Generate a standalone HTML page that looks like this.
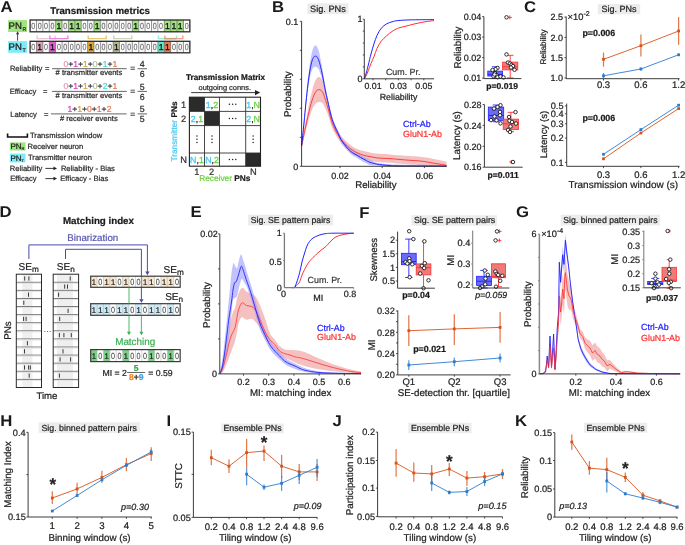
<!DOCTYPE html>
<html><head><meta charset="utf-8"><style>
html,body{margin:0;padding:0;background:#fff;}
svg{display:block;}
text{font-family:"Liberation Sans", sans-serif;text-rendering:geometricPrecision;}
svg{will-change:transform;}
</style></head><body>
<svg width="685" height="545" viewBox="0 0 685 545">
<rect width="685" height="545" fill="#fff"/>
<text x="0" y="0" font-size="15.5" font-weight="bold" fill="#1a1a1a" transform="translate(0.6 12.3) scale(1.08 1)">A</text>
<text x="50.30" y="14.00" font-size="9.7" font-weight="bold" fill="#1a1a1a" stroke="#1a1a1a" stroke-width="0.22">Transmission metrics</text>
<rect x="8.10" y="20.10" width="18.90" height="11.90" fill="#9fe47f" stroke="none" stroke-width="1"/>
<text x="8.50" y="28.90" font-size="9.6" fill="#1a1a1a" stroke="#1a1a1a" stroke-width="0.22">PN</text>
<text x="22.60" y="31.00" font-size="5.4" fill="#333" stroke="#333" stroke-width="0.22">R</text>
<rect x="8.10" y="41.10" width="18.90" height="11.70" fill="#80eaf8" stroke="none" stroke-width="1"/>
<text x="8.50" y="49.90" font-size="9.6" fill="#1a1a1a" stroke="#1a1a1a" stroke-width="0.22">PN</text>
<text x="22.60" y="52.00" font-size="5.4" fill="#333" stroke="#333" stroke-width="0.22">T</text>
<line x1="17.60" y1="40.70" x2="17.60" y2="33.50" stroke="#333" stroke-width="0.9"/>
<path d="M16.0,34.3 L17.6,31.3 L19.2,34.3 Z" fill="#333" stroke="none" stroke-width="1"/>
<rect x="36.49" y="20.00" width="6.39" height="11.80" fill="#f6f6f6" stroke="none" stroke-width="1"/>
<rect x="49.27" y="20.00" width="6.39" height="11.80" fill="#f6f6f6" stroke="none" stroke-width="1"/>
<rect x="55.66" y="20.00" width="6.39" height="11.80" fill="#9fe47f" stroke="none" stroke-width="1"/>
<rect x="62.05" y="20.00" width="6.39" height="11.80" fill="#f6f6f6" stroke="none" stroke-width="1"/>
<rect x="68.44" y="20.00" width="6.39" height="11.80" fill="#9fe47f" stroke="none" stroke-width="1"/>
<rect x="74.83" y="20.00" width="6.39" height="11.80" fill="#9fe47f" stroke="none" stroke-width="1"/>
<rect x="87.61" y="20.00" width="6.39" height="11.80" fill="#f6f6f6" stroke="none" stroke-width="1"/>
<rect x="94.00" y="20.00" width="6.39" height="11.80" fill="#9fe47f" stroke="none" stroke-width="1"/>
<rect x="100.39" y="20.00" width="6.39" height="11.80" fill="#f6f6f6" stroke="none" stroke-width="1"/>
<rect x="113.17" y="20.00" width="6.39" height="11.80" fill="#f6f6f6" stroke="none" stroke-width="1"/>
<rect x="125.95" y="20.00" width="6.39" height="11.80" fill="#f6f6f6" stroke="none" stroke-width="1"/>
<rect x="132.34" y="20.00" width="6.39" height="11.80" fill="#9fe47f" stroke="none" stroke-width="1"/>
<rect x="138.73" y="20.00" width="6.39" height="11.80" fill="#f6f6f6" stroke="none" stroke-width="1"/>
<rect x="151.51" y="20.00" width="6.39" height="11.80" fill="#f6f6f6" stroke="none" stroke-width="1"/>
<rect x="164.29" y="20.00" width="6.39" height="11.80" fill="#9fe47f" stroke="none" stroke-width="1"/>
<rect x="170.68" y="20.00" width="6.39" height="11.80" fill="#9fe47f" stroke="none" stroke-width="1"/>
<rect x="177.07" y="20.00" width="6.39" height="11.80" fill="#9fe47f" stroke="none" stroke-width="1"/>
<line x1="36.49" y1="20.00" x2="36.49" y2="31.80" stroke="#555" stroke-width="0.6"/>
<line x1="42.88" y1="20.00" x2="42.88" y2="31.80" stroke="#555" stroke-width="0.6"/>
<line x1="49.27" y1="20.00" x2="49.27" y2="31.80" stroke="#555" stroke-width="0.6"/>
<line x1="55.66" y1="20.00" x2="55.66" y2="31.80" stroke="#555" stroke-width="0.6"/>
<line x1="62.05" y1="20.00" x2="62.05" y2="31.80" stroke="#555" stroke-width="0.6"/>
<line x1="68.44" y1="20.00" x2="68.44" y2="31.80" stroke="#555" stroke-width="0.6"/>
<line x1="74.83" y1="20.00" x2="74.83" y2="31.80" stroke="#555" stroke-width="0.6"/>
<line x1="81.22" y1="20.00" x2="81.22" y2="31.80" stroke="#555" stroke-width="0.6"/>
<line x1="87.61" y1="20.00" x2="87.61" y2="31.80" stroke="#555" stroke-width="0.6"/>
<line x1="94.00" y1="20.00" x2="94.00" y2="31.80" stroke="#555" stroke-width="0.6"/>
<line x1="100.39" y1="20.00" x2="100.39" y2="31.80" stroke="#555" stroke-width="0.6"/>
<line x1="106.78" y1="20.00" x2="106.78" y2="31.80" stroke="#555" stroke-width="0.6"/>
<line x1="113.17" y1="20.00" x2="113.17" y2="31.80" stroke="#555" stroke-width="0.6"/>
<line x1="119.56" y1="20.00" x2="119.56" y2="31.80" stroke="#555" stroke-width="0.6"/>
<line x1="125.95" y1="20.00" x2="125.95" y2="31.80" stroke="#555" stroke-width="0.6"/>
<line x1="132.34" y1="20.00" x2="132.34" y2="31.80" stroke="#555" stroke-width="0.6"/>
<line x1="138.73" y1="20.00" x2="138.73" y2="31.80" stroke="#555" stroke-width="0.6"/>
<line x1="145.12" y1="20.00" x2="145.12" y2="31.80" stroke="#555" stroke-width="0.6"/>
<line x1="151.51" y1="20.00" x2="151.51" y2="31.80" stroke="#555" stroke-width="0.6"/>
<line x1="157.90" y1="20.00" x2="157.90" y2="31.80" stroke="#555" stroke-width="0.6"/>
<line x1="164.29" y1="20.00" x2="164.29" y2="31.80" stroke="#555" stroke-width="0.6"/>
<line x1="170.68" y1="20.00" x2="170.68" y2="31.80" stroke="#555" stroke-width="0.6"/>
<line x1="177.07" y1="20.00" x2="177.07" y2="31.80" stroke="#555" stroke-width="0.6"/>
<line x1="183.46" y1="20.00" x2="183.46" y2="31.80" stroke="#555" stroke-width="0.6"/>
<rect x="30.10" y="20.00" width="159.75" height="11.80" fill="none" stroke="#2a2a2a" stroke-width="1.3"/>
<text x="0" y="0" font-size="8.9" text-anchor="middle" fill="#666" stroke="#666" stroke-width="0.1" transform="translate(33.30 29.10) scale(0.8 1)">0</text>
<text x="0" y="0" font-size="8.9" text-anchor="middle" fill="#666" stroke="#666" stroke-width="0.1" transform="translate(39.69 29.10) scale(0.8 1)">0</text>
<text x="0" y="0" font-size="8.9" text-anchor="middle" fill="#666" stroke="#666" stroke-width="0.1" transform="translate(46.08 29.10) scale(0.8 1)">0</text>
<text x="0" y="0" font-size="8.9" text-anchor="middle" fill="#666" stroke="#666" stroke-width="0.1" transform="translate(52.46 29.10) scale(0.8 1)">0</text>
<text x="58.85" y="29.00" font-size="8.6" text-anchor="middle" fill="#111" stroke="#111" stroke-width="0.3">1</text>
<text x="0" y="0" font-size="8.9" text-anchor="middle" fill="#666" stroke="#666" stroke-width="0.1" transform="translate(65.24 29.10) scale(0.8 1)">0</text>
<text x="71.63" y="29.00" font-size="8.6" text-anchor="middle" fill="#111" stroke="#111" stroke-width="0.3">1</text>
<text x="78.02" y="29.00" font-size="8.6" text-anchor="middle" fill="#111" stroke="#111" stroke-width="0.3">1</text>
<text x="0" y="0" font-size="8.9" text-anchor="middle" fill="#666" stroke="#666" stroke-width="0.1" transform="translate(84.41 29.10) scale(0.8 1)">0</text>
<text x="0" y="0" font-size="8.9" text-anchor="middle" fill="#666" stroke="#666" stroke-width="0.1" transform="translate(90.80 29.10) scale(0.8 1)">0</text>
<text x="97.19" y="29.00" font-size="8.6" text-anchor="middle" fill="#111" stroke="#111" stroke-width="0.3">1</text>
<text x="0" y="0" font-size="8.9" text-anchor="middle" fill="#666" stroke="#666" stroke-width="0.1" transform="translate(103.58 29.10) scale(0.8 1)">0</text>
<text x="0" y="0" font-size="8.9" text-anchor="middle" fill="#666" stroke="#666" stroke-width="0.1" transform="translate(109.97 29.10) scale(0.8 1)">0</text>
<text x="0" y="0" font-size="8.9" text-anchor="middle" fill="#666" stroke="#666" stroke-width="0.1" transform="translate(116.36 29.10) scale(0.8 1)">0</text>
<text x="0" y="0" font-size="8.9" text-anchor="middle" fill="#666" stroke="#666" stroke-width="0.1" transform="translate(122.75 29.10) scale(0.8 1)">0</text>
<text x="0" y="0" font-size="8.9" text-anchor="middle" fill="#666" stroke="#666" stroke-width="0.1" transform="translate(129.14 29.10) scale(0.8 1)">0</text>
<text x="135.53" y="29.00" font-size="8.6" text-anchor="middle" fill="#111" stroke="#111" stroke-width="0.3">1</text>
<text x="0" y="0" font-size="8.9" text-anchor="middle" fill="#666" stroke="#666" stroke-width="0.1" transform="translate(141.92 29.10) scale(0.8 1)">0</text>
<text x="0" y="0" font-size="8.9" text-anchor="middle" fill="#666" stroke="#666" stroke-width="0.1" transform="translate(148.31 29.10) scale(0.8 1)">0</text>
<text x="0" y="0" font-size="8.9" text-anchor="middle" fill="#666" stroke="#666" stroke-width="0.1" transform="translate(154.70 29.10) scale(0.8 1)">0</text>
<text x="0" y="0" font-size="8.9" text-anchor="middle" fill="#666" stroke="#666" stroke-width="0.1" transform="translate(161.09 29.10) scale(0.8 1)">0</text>
<text x="167.48" y="29.00" font-size="8.6" text-anchor="middle" fill="#111" stroke="#111" stroke-width="0.3">1</text>
<text x="173.87" y="29.00" font-size="8.6" text-anchor="middle" fill="#111" stroke="#111" stroke-width="0.3">1</text>
<text x="180.26" y="29.00" font-size="8.6" text-anchor="middle" fill="#111" stroke="#111" stroke-width="0.3">1</text>
<text x="0" y="0" font-size="8.9" text-anchor="middle" fill="#666" stroke="#666" stroke-width="0.1" transform="translate(186.65 29.10) scale(0.8 1)">0</text>
<rect x="36.49" y="41.30" width="6.39" height="11.50" fill="#d9a8b8" stroke="none" stroke-width="1"/>
<rect x="49.27" y="41.30" width="6.39" height="11.50" fill="#e05cd0" stroke="none" stroke-width="1"/>
<rect x="62.05" y="41.30" width="6.39" height="11.50" fill="#f6f6f6" stroke="none" stroke-width="1"/>
<rect x="74.83" y="41.30" width="6.39" height="11.50" fill="#f6f6f6" stroke="none" stroke-width="1"/>
<rect x="87.61" y="41.30" width="6.39" height="11.50" fill="#e0a830" stroke="none" stroke-width="1"/>
<rect x="100.39" y="41.30" width="6.39" height="11.50" fill="#f6f6f6" stroke="none" stroke-width="1"/>
<rect x="113.17" y="41.30" width="6.39" height="11.50" fill="#b0b890" stroke="none" stroke-width="1"/>
<rect x="125.95" y="41.30" width="6.39" height="11.50" fill="#f6f6f6" stroke="none" stroke-width="1"/>
<rect x="138.73" y="41.30" width="6.39" height="11.50" fill="#f6f6f6" stroke="none" stroke-width="1"/>
<rect x="151.51" y="41.30" width="6.39" height="11.50" fill="#f6f6f6" stroke="none" stroke-width="1"/>
<rect x="157.90" y="41.30" width="6.39" height="11.50" fill="#5ee8c8" stroke="none" stroke-width="1"/>
<rect x="164.29" y="41.30" width="6.39" height="11.50" fill="#e8784c" stroke="none" stroke-width="1"/>
<rect x="177.07" y="41.30" width="6.39" height="11.50" fill="#f6f6f6" stroke="none" stroke-width="1"/>
<line x1="36.49" y1="41.30" x2="36.49" y2="52.80" stroke="#555" stroke-width="0.6"/>
<line x1="42.88" y1="41.30" x2="42.88" y2="52.80" stroke="#555" stroke-width="0.6"/>
<line x1="49.27" y1="41.30" x2="49.27" y2="52.80" stroke="#555" stroke-width="0.6"/>
<line x1="55.66" y1="41.30" x2="55.66" y2="52.80" stroke="#555" stroke-width="0.6"/>
<line x1="62.05" y1="41.30" x2="62.05" y2="52.80" stroke="#555" stroke-width="0.6"/>
<line x1="68.44" y1="41.30" x2="68.44" y2="52.80" stroke="#555" stroke-width="0.6"/>
<line x1="74.83" y1="41.30" x2="74.83" y2="52.80" stroke="#555" stroke-width="0.6"/>
<line x1="81.22" y1="41.30" x2="81.22" y2="52.80" stroke="#555" stroke-width="0.6"/>
<line x1="87.61" y1="41.30" x2="87.61" y2="52.80" stroke="#555" stroke-width="0.6"/>
<line x1="94.00" y1="41.30" x2="94.00" y2="52.80" stroke="#555" stroke-width="0.6"/>
<line x1="100.39" y1="41.30" x2="100.39" y2="52.80" stroke="#555" stroke-width="0.6"/>
<line x1="106.78" y1="41.30" x2="106.78" y2="52.80" stroke="#555" stroke-width="0.6"/>
<line x1="113.17" y1="41.30" x2="113.17" y2="52.80" stroke="#555" stroke-width="0.6"/>
<line x1="119.56" y1="41.30" x2="119.56" y2="52.80" stroke="#555" stroke-width="0.6"/>
<line x1="125.95" y1="41.30" x2="125.95" y2="52.80" stroke="#555" stroke-width="0.6"/>
<line x1="132.34" y1="41.30" x2="132.34" y2="52.80" stroke="#555" stroke-width="0.6"/>
<line x1="138.73" y1="41.30" x2="138.73" y2="52.80" stroke="#555" stroke-width="0.6"/>
<line x1="145.12" y1="41.30" x2="145.12" y2="52.80" stroke="#555" stroke-width="0.6"/>
<line x1="151.51" y1="41.30" x2="151.51" y2="52.80" stroke="#555" stroke-width="0.6"/>
<line x1="157.90" y1="41.30" x2="157.90" y2="52.80" stroke="#555" stroke-width="0.6"/>
<line x1="164.29" y1="41.30" x2="164.29" y2="52.80" stroke="#555" stroke-width="0.6"/>
<line x1="170.68" y1="41.30" x2="170.68" y2="52.80" stroke="#555" stroke-width="0.6"/>
<line x1="177.07" y1="41.30" x2="177.07" y2="52.80" stroke="#555" stroke-width="0.6"/>
<line x1="183.46" y1="41.30" x2="183.46" y2="52.80" stroke="#555" stroke-width="0.6"/>
<rect x="30.10" y="41.30" width="159.75" height="11.50" fill="none" stroke="#2a2a2a" stroke-width="1.3"/>
<text x="0" y="0" font-size="8.9" text-anchor="middle" fill="#666" stroke="#666" stroke-width="0.1" transform="translate(33.30 50.25) scale(0.8 1)">0</text>
<text x="39.69" y="50.15" font-size="8.6" text-anchor="middle" fill="#111" stroke="#111" stroke-width="0.3">1</text>
<text x="0" y="0" font-size="8.9" text-anchor="middle" fill="#666" stroke="#666" stroke-width="0.1" transform="translate(46.08 50.25) scale(0.8 1)">0</text>
<text x="52.46" y="50.15" font-size="8.6" text-anchor="middle" fill="#111" stroke="#111" stroke-width="0.3">1</text>
<text x="0" y="0" font-size="8.9" text-anchor="middle" fill="#666" stroke="#666" stroke-width="0.1" transform="translate(58.85 50.25) scale(0.8 1)">0</text>
<text x="0" y="0" font-size="8.9" text-anchor="middle" fill="#666" stroke="#666" stroke-width="0.1" transform="translate(65.24 50.25) scale(0.8 1)">0</text>
<text x="0" y="0" font-size="8.9" text-anchor="middle" fill="#666" stroke="#666" stroke-width="0.1" transform="translate(71.63 50.25) scale(0.8 1)">0</text>
<text x="0" y="0" font-size="8.9" text-anchor="middle" fill="#666" stroke="#666" stroke-width="0.1" transform="translate(78.02 50.25) scale(0.8 1)">0</text>
<text x="0" y="0" font-size="8.9" text-anchor="middle" fill="#666" stroke="#666" stroke-width="0.1" transform="translate(84.41 50.25) scale(0.8 1)">0</text>
<text x="90.80" y="50.15" font-size="8.6" text-anchor="middle" fill="#111" stroke="#111" stroke-width="0.3">1</text>
<text x="0" y="0" font-size="8.9" text-anchor="middle" fill="#666" stroke="#666" stroke-width="0.1" transform="translate(97.19 50.25) scale(0.8 1)">0</text>
<text x="0" y="0" font-size="8.9" text-anchor="middle" fill="#666" stroke="#666" stroke-width="0.1" transform="translate(103.58 50.25) scale(0.8 1)">0</text>
<text x="0" y="0" font-size="8.9" text-anchor="middle" fill="#666" stroke="#666" stroke-width="0.1" transform="translate(109.97 50.25) scale(0.8 1)">0</text>
<text x="116.36" y="50.15" font-size="8.6" text-anchor="middle" fill="#111" stroke="#111" stroke-width="0.3">1</text>
<text x="0" y="0" font-size="8.9" text-anchor="middle" fill="#666" stroke="#666" stroke-width="0.1" transform="translate(122.75 50.25) scale(0.8 1)">0</text>
<text x="0" y="0" font-size="8.9" text-anchor="middle" fill="#666" stroke="#666" stroke-width="0.1" transform="translate(129.14 50.25) scale(0.8 1)">0</text>
<text x="0" y="0" font-size="8.9" text-anchor="middle" fill="#666" stroke="#666" stroke-width="0.1" transform="translate(135.53 50.25) scale(0.8 1)">0</text>
<text x="0" y="0" font-size="8.9" text-anchor="middle" fill="#666" stroke="#666" stroke-width="0.1" transform="translate(141.92 50.25) scale(0.8 1)">0</text>
<text x="0" y="0" font-size="8.9" text-anchor="middle" fill="#666" stroke="#666" stroke-width="0.1" transform="translate(148.31 50.25) scale(0.8 1)">0</text>
<text x="0" y="0" font-size="8.9" text-anchor="middle" fill="#666" stroke="#666" stroke-width="0.1" transform="translate(154.70 50.25) scale(0.8 1)">0</text>
<text x="161.09" y="50.15" font-size="8.6" text-anchor="middle" fill="#111" stroke="#111" stroke-width="0.3">1</text>
<text x="167.48" y="50.15" font-size="8.6" text-anchor="middle" fill="#111" stroke="#111" stroke-width="0.3">1</text>
<text x="0" y="0" font-size="8.9" text-anchor="middle" fill="#666" stroke="#666" stroke-width="0.1" transform="translate(173.87 50.25) scale(0.8 1)">0</text>
<text x="0" y="0" font-size="8.9" text-anchor="middle" fill="#666" stroke="#666" stroke-width="0.1" transform="translate(180.26 50.25) scale(0.8 1)">0</text>
<text x="0" y="0" font-size="8.9" text-anchor="middle" fill="#666" stroke="#666" stroke-width="0.1" transform="translate(186.65 50.25) scale(0.8 1)">0</text>
<path d="M37.09,35.4 L37.09,38.6 L55.06,38.6 L55.06,35.4" fill="none" stroke="#e9c4d2" stroke-width="1.4"/>
<path d="M49.87,35.4 L49.87,38.6 L67.84,38.6 L67.84,35.4" fill="none" stroke="#ee84e0" stroke-width="1.4"/>
<path d="M88.21,35.4 L88.21,38.6 L106.18,38.6 L106.18,35.4" fill="none" stroke="#e8c86a" stroke-width="1.4"/>
<path d="M113.77,35.4 L113.77,38.6 L131.74,38.6 L131.74,35.4" fill="none" stroke="#cdd4b6" stroke-width="1.4"/>
<path d="M158.50,35.4 L158.50,38.6 L176.47,38.6 L176.47,35.4" fill="none" stroke="#8ef0de" stroke-width="1.4"/>
<path d="M164.89,35.4 L164.89,38.6 L182.86,38.6 L182.86,35.4" fill="none" stroke="#f0a07c" stroke-width="1.4"/>
<line x1="164.29" y1="38.60" x2="176.47" y2="38.60" stroke="#c8a078" stroke-width="1.4"/>
<text x="9.90" y="71.30" font-size="7.6" fill="#2a2a2a" stroke="#2a2a2a" stroke-width="0.22">Reliability</text>
<text x="45.00" y="71.30" font-size="7.6" fill="#2a2a2a" stroke="#2a2a2a" stroke-width="0.22">=</text>
<text x="63.40" y="66.60" font-size="8.6" fill="#2a2a2a" stroke="#2a2a2a" stroke-width="0.22"><tspan fill="#e890b8" stroke="#e890b8">0</tspan><tspan fill="#333" stroke="#333">+</tspan><tspan fill="#e040d0" stroke="#e040d0">1</tspan><tspan fill="#333" stroke="#333">+</tspan><tspan fill="#e0a030" stroke="#e0a030">1</tspan><tspan fill="#333" stroke="#333">+</tspan><tspan fill="#b0c090" stroke="#b0c090">0</tspan><tspan fill="#333" stroke="#333">+</tspan><tspan fill="#40e0d0" stroke="#40e0d0">1</tspan><tspan fill="#333" stroke="#333">+</tspan><tspan fill="#e8784c" stroke="#e8784c">1</tspan></text>
<line x1="52.10" y1="68.70" x2="126.70" y2="68.70" stroke="#555" stroke-width="0.9"/>
<text x="55.60" y="75.40" font-size="7.6" fill="#2a2a2a" stroke="#2a2a2a" stroke-width="0.22"># transmitter events</text>
<text x="132.70" y="71.30" font-size="8.4" text-anchor="middle" fill="#2a2a2a" stroke="#2a2a2a" stroke-width="0.22">=</text>
<line x1="137.60" y1="68.70" x2="147.00" y2="68.70" stroke="#555" stroke-width="0.9"/>
<text x="142.20" y="67.00" font-size="8.8" text-anchor="middle" fill="#2a2a2a" stroke="#2a2a2a" stroke-width="0.22">4</text>
<text x="142.20" y="77.10" font-size="8.8" text-anchor="middle" fill="#2a2a2a" stroke="#2a2a2a" stroke-width="0.22">6</text>
<text x="9.80" y="93.80" font-size="7.6" fill="#2a2a2a" stroke="#2a2a2a" stroke-width="0.22">Efficacy</text>
<text x="42.90" y="93.80" font-size="7.6" fill="#2a2a2a" stroke="#2a2a2a" stroke-width="0.22">=</text>
<text x="63.40" y="89.30" font-size="8.6" fill="#2a2a2a" stroke="#2a2a2a" stroke-width="0.22"><tspan fill="#e890b8" stroke="#e890b8">0</tspan><tspan fill="#333" stroke="#333">+</tspan><tspan fill="#e040d0" stroke="#e040d0">1</tspan><tspan fill="#333" stroke="#333">+</tspan><tspan fill="#e0a030" stroke="#e0a030">1</tspan><tspan fill="#333" stroke="#333">+</tspan><tspan fill="#b0c090" stroke="#b0c090">0</tspan><tspan fill="#333" stroke="#333">+</tspan><tspan fill="#40e0d0" stroke="#40e0d0">2</tspan><tspan fill="#333" stroke="#333">+</tspan><tspan fill="#e8784c" stroke="#e8784c">1</tspan></text>
<line x1="52.10" y1="91.40" x2="126.70" y2="91.40" stroke="#555" stroke-width="0.9"/>
<text x="55.60" y="98.30" font-size="7.6" fill="#2a2a2a" stroke="#2a2a2a" stroke-width="0.22"># transmitter events</text>
<text x="132.70" y="94.00" font-size="8.4" text-anchor="middle" fill="#2a2a2a" stroke="#2a2a2a" stroke-width="0.22">=</text>
<line x1="137.60" y1="91.40" x2="147.00" y2="91.40" stroke="#555" stroke-width="0.9"/>
<text x="142.20" y="89.70" font-size="8.8" text-anchor="middle" fill="#2a2a2a" stroke="#2a2a2a" stroke-width="0.22">5</text>
<text x="142.20" y="99.80" font-size="8.8" text-anchor="middle" fill="#2a2a2a" stroke="#2a2a2a" stroke-width="0.22">6</text>
<text x="10.20" y="116.70" font-size="7.6" fill="#2a2a2a" stroke="#2a2a2a" stroke-width="0.22">Latency</text>
<text x="44.00" y="116.70" font-size="7.6" fill="#2a2a2a" stroke="#2a2a2a" stroke-width="0.22">=</text>
<text x="67.40" y="111.80" font-size="8.6" fill="#2a2a2a" stroke="#2a2a2a" stroke-width="0.22"><tspan fill="#e040d0" stroke="#e040d0">1</tspan><tspan fill="#333" stroke="#333">+</tspan><tspan fill="#e0a030" stroke="#e0a030">1</tspan><tspan fill="#333" stroke="#333">+</tspan><tspan fill="#e8784c" stroke="#e8784c">0</tspan><tspan fill="#333" stroke="#333">+</tspan><tspan fill="#e8784c" stroke="#e8784c">1</tspan><tspan fill="#333" stroke="#333">+</tspan><tspan fill="#e8784c" stroke="#e8784c">2</tspan></text>
<line x1="51.00" y1="113.90" x2="126.70" y2="113.90" stroke="#555" stroke-width="0.9"/>
<text x="59.90" y="120.80" font-size="7.6" fill="#2a2a2a" stroke="#2a2a2a" stroke-width="0.22"># receiver events</text>
<text x="132.70" y="116.50" font-size="8.4" text-anchor="middle" fill="#2a2a2a" stroke="#2a2a2a" stroke-width="0.22">=</text>
<line x1="137.60" y1="113.90" x2="147.00" y2="113.90" stroke="#555" stroke-width="0.9"/>
<text x="142.20" y="112.20" font-size="8.8" text-anchor="middle" fill="#2a2a2a" stroke="#2a2a2a" stroke-width="0.22">5</text>
<text x="142.20" y="122.30" font-size="8.8" text-anchor="middle" fill="#2a2a2a" stroke="#2a2a2a" stroke-width="0.22">5</text>
<path d="M7.6,133.6 L7.6,137.0 L27.4,137.0 L27.4,133.6" fill="none" stroke="#111" stroke-width="1.6"/>
<text x="30.00" y="138.40" font-size="7.6" fill="#2a2a2a" stroke="#2a2a2a" stroke-width="0.22">Transmission window</text>
<rect x="9.80" y="142.40" width="15.70" height="8.10" fill="#9fe47f" stroke="none" stroke-width="1"/>
<text x="10.40" y="149.40" font-size="8" fill="#1a1a1a" stroke="#1a1a1a" stroke-width="0.22">PN</text>
<text x="21.60" y="150.00" font-size="4" fill="#333" stroke="#333" stroke-width="0.22">R</text>
<text x="27.60" y="148.50" font-size="7.6" fill="#2a2a2a" stroke="#2a2a2a" stroke-width="0.22">Receiver neuron</text>
<rect x="9.80" y="153.60" width="15.70" height="8.80" fill="#80eaf8" stroke="none" stroke-width="1"/>
<text x="10.40" y="161.00" font-size="8" fill="#1a1a1a" stroke="#1a1a1a" stroke-width="0.22">PN</text>
<text x="21.60" y="161.80" font-size="4" fill="#333" stroke="#333" stroke-width="0.22">T</text>
<text x="28.00" y="160.20" font-size="7.6" fill="#2a2a2a" stroke="#2a2a2a" stroke-width="0.22">Transmitter neuron</text>
<text x="9.80" y="171.00" font-size="7.6" fill="#2a2a2a" stroke="#2a2a2a" stroke-width="0.22">Reliability</text>
<line x1="45.40" y1="168.40" x2="54.50" y2="168.40" stroke="#222" stroke-width="0.9"/>
<path d="M53.5,166.6 L57,168.4 L53.5,170.2 Z" fill="#222" stroke="none" stroke-width="1"/>
<text x="60.90" y="171.00" font-size="7.6" fill="#2a2a2a" stroke="#2a2a2a" stroke-width="0.22">Reliability - Bias</text>
<text x="10.20" y="181.20" font-size="7.6" fill="#2a2a2a" stroke="#2a2a2a" stroke-width="0.22">Efficacy</text>
<line x1="45.40" y1="178.60" x2="54.50" y2="178.60" stroke="#222" stroke-width="0.9"/>
<path d="M53.5,176.8 L57,178.6 L53.5,180.4 Z" fill="#222" stroke="none" stroke-width="1"/>
<text x="60.30" y="181.20" font-size="7.6" fill="#2a2a2a" stroke="#2a2a2a" stroke-width="0.22">Efficacy - Bias</text>
<text x="186.00" y="79.50" font-size="8.2" font-weight="bold" fill="#1a1a1a" stroke="#1a1a1a" stroke-width="0.22">Transmission Matrix</text>
<text x="198.50" y="89.70" font-size="7.45" fill="#2a2a2a" stroke="#2a2a2a" stroke-width="0.22">outgoing conns.</text>
<line x1="191.20" y1="92.60" x2="256.00" y2="92.60" stroke="#222" stroke-width="0.9"/>
<path d="M255,89.9 L260.2,92.6 L255,95.3 Z" fill="#222" stroke="none" stroke-width="1"/>
<rect x="189.40" y="97.20" width="15.10" height="14.20" fill="#2b2b2b" stroke="none" stroke-width="1"/>
<rect x="204.50" y="111.40" width="15.00" height="14.20" fill="#2b2b2b" stroke="none" stroke-width="1"/>
<rect x="245.70" y="153.00" width="14.80" height="13.20" fill="#2b2b2b" stroke="none" stroke-width="1"/>
<line x1="204.50" y1="97.20" x2="204.50" y2="166.20" stroke="#333" stroke-width="0.9"/>
<line x1="219.50" y1="97.20" x2="219.50" y2="166.20" stroke="#333" stroke-width="0.9"/>
<line x1="245.70" y1="97.20" x2="245.70" y2="166.20" stroke="#333" stroke-width="0.9"/>
<line x1="189.40" y1="111.40" x2="260.50" y2="111.40" stroke="#333" stroke-width="0.9"/>
<line x1="189.40" y1="125.60" x2="260.50" y2="125.60" stroke="#333" stroke-width="0.9"/>
<line x1="189.40" y1="153.00" x2="260.50" y2="153.00" stroke="#333" stroke-width="0.9"/>
<rect x="189.40" y="97.20" width="71.10" height="69.00" fill="none" stroke="#222" stroke-width="1.1"/>
<text x="212.00" y="107.50" font-size="8.8" text-anchor="middle" fill="#222" stroke-width="0.3"><tspan fill="#48c8f0" stroke="#48c8f0">1</tspan><tspan fill="#333" stroke="#333">,</tspan><tspan fill="#6cd040" stroke="#6cd040">2</tspan></text>
<text x="253.10" y="107.50" font-size="8.8" text-anchor="middle" fill="#222" stroke-width="0.3"><tspan fill="#48c8f0" stroke="#48c8f0">1</tspan><tspan fill="#333" stroke="#333">,</tspan><tspan fill="#6cd040" stroke="#6cd040">N</tspan></text>
<text x="196.95" y="121.50" font-size="8.8" text-anchor="middle" fill="#222" stroke-width="0.3"><tspan fill="#48c8f0" stroke="#48c8f0">2</tspan><tspan fill="#333" stroke="#333">,</tspan><tspan fill="#6cd040" stroke="#6cd040">1</tspan></text>
<text x="253.10" y="121.50" font-size="8.8" text-anchor="middle" fill="#222" stroke-width="0.3"><tspan fill="#48c8f0" stroke="#48c8f0">2</tspan><tspan fill="#333" stroke="#333">,</tspan><tspan fill="#6cd040" stroke="#6cd040">N</tspan></text>
<text x="196.95" y="162.80" font-size="8.8" text-anchor="middle" fill="#222" stroke-width="0.3"><tspan fill="#48c8f0" stroke="#48c8f0">N</tspan><tspan fill="#333" stroke="#333">,</tspan><tspan fill="#6cd040" stroke="#6cd040">1</tspan></text>
<text x="212.00" y="162.80" font-size="8.8" text-anchor="middle" fill="#222" stroke-width="0.3"><tspan fill="#48c8f0" stroke="#48c8f0">N</tspan><tspan fill="#333" stroke="#333">,</tspan><tspan fill="#6cd040" stroke="#6cd040">2</tspan></text>
<circle cx="229.40" cy="104.30" r="0.75" fill="#222" stroke="none" stroke-width="0"/>
<circle cx="232.60" cy="104.30" r="0.75" fill="#222" stroke="none" stroke-width="0"/>
<circle cx="235.80" cy="104.30" r="0.75" fill="#222" stroke="none" stroke-width="0"/>
<circle cx="229.40" cy="118.50" r="0.75" fill="#222" stroke="none" stroke-width="0"/>
<circle cx="232.60" cy="118.50" r="0.75" fill="#222" stroke="none" stroke-width="0"/>
<circle cx="235.80" cy="118.50" r="0.75" fill="#222" stroke="none" stroke-width="0"/>
<circle cx="229.40" cy="159.60" r="0.75" fill="#222" stroke="none" stroke-width="0"/>
<circle cx="232.60" cy="159.60" r="0.75" fill="#222" stroke="none" stroke-width="0"/>
<circle cx="235.80" cy="159.60" r="0.75" fill="#222" stroke="none" stroke-width="0"/>
<circle cx="196.95" cy="136.10" r="0.75" fill="#222" stroke="none" stroke-width="0"/>
<circle cx="196.95" cy="139.30" r="0.75" fill="#222" stroke="none" stroke-width="0"/>
<circle cx="196.95" cy="142.50" r="0.75" fill="#222" stroke="none" stroke-width="0"/>
<circle cx="212.00" cy="136.10" r="0.75" fill="#222" stroke="none" stroke-width="0"/>
<circle cx="212.00" cy="139.30" r="0.75" fill="#222" stroke="none" stroke-width="0"/>
<circle cx="212.00" cy="142.50" r="0.75" fill="#222" stroke="none" stroke-width="0"/>
<circle cx="253.10" cy="136.10" r="0.75" fill="#222" stroke="none" stroke-width="0"/>
<circle cx="253.10" cy="139.30" r="0.75" fill="#222" stroke="none" stroke-width="0"/>
<circle cx="253.10" cy="142.50" r="0.75" fill="#222" stroke="none" stroke-width="0"/>
<text x="183.60" y="108.00" font-size="9.3" text-anchor="middle" fill="#333" stroke="#333" stroke-width="0.22">1</text>
<text x="183.60" y="122.10" font-size="9.3" text-anchor="middle" fill="#333" stroke="#333" stroke-width="0.22">2</text>
<text x="183.60" y="163.30" font-size="9.3" text-anchor="middle" fill="#333" stroke="#333" stroke-width="0.22">N</text>
<text x="196.80" y="174.60" font-size="9.3" text-anchor="middle" fill="#333" stroke="#333" stroke-width="0.22">1</text>
<text x="211.50" y="174.60" font-size="9.3" text-anchor="middle" fill="#333" stroke="#333" stroke-width="0.22">2</text>
<text x="253.30" y="174.60" font-size="9.3" text-anchor="middle" fill="#333" stroke="#333" stroke-width="0.22">N</text>
<text x="224.80" y="180.60" font-size="8.3" text-anchor="middle" fill="#222" stroke="#222" stroke-width="0.22"><tspan fill="#6cd040" stroke="#6cd040">Receiver </tspan><tspan font-weight="bold" fill="#1a1a1a">PNs</tspan></text>
<text x="177.00" y="131.50" font-size="8.3" text-anchor="middle" fill="#222" transform="rotate(-90 177.0 131.5)" stroke="#222" stroke-width="0.22"><tspan fill="#48c8f0" stroke="#48c8f0">Transmitter </tspan><tspan font-weight="bold" fill="#1a1a1a">PNs</tspan></text>
<text x="0" y="0" font-size="15.5" font-weight="bold" fill="#1a1a1a" transform="translate(272.0 12.3) scale(1.08 1)">B</text>
<rect x="307.30" y="3.30" width="41.20" height="10.70" fill="#ececec" stroke="none" stroke-width="1"/>
<text x="327.90" y="11.70" font-size="9.2" text-anchor="middle" fill="#222" stroke="#222" stroke-width="0.22">Sig. PNs</text>
<path d="M301.60,144.63 C302.00,142.12 303.27,133.68 304.00,129.55 C304.73,125.42 305.33,123.14 306.00,119.85 C306.67,116.56 307.33,113.13 308.00,109.81 C308.67,106.49 309.33,103.01 310.00,99.93 C310.67,96.86 311.33,93.95 312.00,91.35 C312.67,88.74 313.33,86.28 314.00,84.28 C314.67,82.28 315.23,80.56 316.00,79.35 C316.77,78.14 317.77,77.18 318.60,77.00 C319.43,76.82 320.27,77.43 321.00,78.26 C321.73,79.08 322.33,80.12 323.00,81.94 C323.67,83.76 324.17,86.00 325.00,89.18 C325.83,92.36 326.93,96.63 328.00,101.02 C329.07,105.41 330.32,111.65 331.40,115.54 C332.48,119.42 333.42,121.78 334.50,124.35 C335.58,126.92 336.82,129.04 337.90,130.95 C338.98,132.87 339.93,134.44 341.00,135.87 C342.07,137.29 343.22,138.37 344.30,139.49 C345.38,140.62 346.43,141.65 347.50,142.60 C348.57,143.55 349.10,144.12 350.70,145.20 C352.30,146.28 354.95,148.12 357.10,149.10 C359.25,150.08 361.45,150.55 363.60,151.10 C365.75,151.65 367.87,151.98 370.00,152.40 C372.13,152.82 374.27,153.32 376.40,153.60 C378.53,153.88 380.53,153.97 382.80,154.10 C385.07,154.23 387.13,154.20 390.00,154.40 C392.87,154.60 396.67,155.02 400.00,155.30 C403.33,155.58 407.00,155.88 410.00,156.10 C413.00,156.32 415.33,156.35 418.00,156.60 C420.67,156.85 423.17,157.17 426.00,157.60 C428.83,158.03 431.58,158.52 435.00,159.20 C438.42,159.88 444.58,161.28 446.50,161.70 L446.50,166.30 C444.58,166.30 438.42,166.35 435.00,166.30 C431.58,166.25 428.83,166.22 426.00,166.00 C423.17,165.78 420.67,165.25 418.00,165.00 C415.33,164.75 413.00,164.72 410.00,164.50 C407.00,164.28 403.33,163.98 400.00,163.70 C396.67,163.42 392.87,163.00 390.00,162.80 C387.13,162.60 385.07,162.63 382.80,162.50 C380.53,162.37 378.53,162.28 376.40,162.00 C374.27,161.72 372.13,161.22 370.00,160.80 C367.87,160.38 365.75,160.25 363.60,159.50 C361.45,158.75 359.25,157.48 357.10,156.30 C354.95,155.12 352.30,153.48 350.70,152.40 C349.10,151.32 348.57,150.75 347.50,149.80 C346.43,148.85 345.38,147.82 344.30,146.71 C343.22,145.59 342.07,144.51 341.00,143.13 C339.93,141.76 338.98,140.19 337.90,138.45 C336.82,136.70 335.58,134.78 334.50,132.65 C333.42,130.52 332.48,128.61 331.40,125.66 C330.32,122.72 329.07,117.96 328.00,114.98 C326.93,112.01 325.83,109.70 325.00,107.82 C324.17,105.93 323.67,104.57 323.00,103.66 C322.33,102.75 321.73,102.59 321.00,102.34 C320.27,102.10 319.43,102.05 318.60,102.20 C317.77,102.35 316.77,102.66 316.00,103.25 C315.23,103.84 314.67,104.65 314.00,105.72 C313.33,106.79 312.67,108.10 312.00,109.65 C311.33,111.21 310.67,112.98 310.00,115.07 C309.33,117.16 308.67,119.68 308.00,122.19 C307.33,124.71 306.67,127.44 306.00,130.15 C305.33,132.86 304.73,135.58 304.00,138.45 C303.27,141.32 302.00,145.88 301.60,147.37 Z" fill="#f0a8a8" stroke="none" stroke-width="1" fill-opacity="0.72"/>
<path d="M301.60,144.94 C302.00,140.72 303.27,127.50 304.00,119.64 C304.73,111.78 305.33,104.66 306.00,97.79 C306.67,90.93 307.33,84.30 308.00,78.46 C308.67,72.61 309.33,67.14 310.00,62.73 C310.67,58.31 311.33,54.67 312.00,51.97 C312.67,49.26 313.40,47.57 314.00,46.51 C314.60,45.45 315.10,45.57 315.60,45.60 C316.10,45.63 316.43,45.65 317.00,46.71 C317.57,47.77 318.33,49.55 319.00,51.97 C319.67,54.38 320.33,57.81 321.00,61.23 C321.67,64.64 322.25,68.15 323.00,72.46 C323.75,76.76 324.73,82.91 325.50,87.05 C326.27,91.19 326.62,92.81 327.60,97.31 C328.58,101.80 330.25,109.75 331.40,114.01 C332.55,118.27 333.42,120.19 334.50,122.89 C335.58,125.58 336.82,127.86 337.90,130.20 C338.98,132.53 339.93,134.98 341.00,136.90 C342.07,138.82 343.22,140.25 344.30,141.70 C345.38,143.15 346.43,144.42 347.50,145.60 C348.57,146.78 349.62,147.90 350.70,148.80 C351.78,149.70 352.93,150.35 354.00,151.00 C355.07,151.65 356.05,152.08 357.10,152.70 C358.15,153.32 359.22,154.07 360.30,154.70 C361.38,155.33 362.52,155.90 363.60,156.50 C364.68,157.10 365.73,157.77 366.80,158.30 C367.87,158.83 368.40,158.95 370.00,159.70 C371.60,160.45 374.27,162.13 376.40,162.80 C378.53,163.47 380.53,163.45 382.80,163.70 C385.07,163.95 387.13,164.13 390.00,164.30 C392.87,164.47 390.58,164.60 400.00,164.70 C409.42,164.80 438.75,164.87 446.50,164.90 L446.50,166.30 C438.75,166.30 409.42,166.30 400.00,166.30 C390.58,166.30 392.87,166.33 390.00,166.30 C387.13,166.27 385.07,166.28 382.80,166.10 C380.53,165.92 378.53,165.40 376.40,165.20 C374.27,165.00 371.60,165.18 370.00,164.90 C368.40,164.62 367.87,164.03 366.80,163.50 C365.73,162.97 364.68,162.30 363.60,161.70 C362.52,161.10 361.38,160.53 360.30,159.90 C359.22,159.27 358.15,158.52 357.10,157.90 C356.05,157.28 355.07,156.85 354.00,156.20 C352.93,155.55 351.78,154.90 350.70,154.00 C349.62,153.10 348.57,151.98 347.50,150.80 C346.43,149.62 345.38,148.35 344.30,146.90 C343.22,145.45 342.07,144.02 341.00,142.10 C339.93,140.18 338.98,137.73 337.90,135.40 C336.82,133.07 335.58,130.78 334.50,128.11 C333.42,125.44 332.55,123.46 331.40,119.39 C330.25,115.32 328.58,107.77 327.60,103.69 C326.62,99.62 326.27,98.31 325.50,94.95 C324.73,91.59 323.75,86.74 323.00,83.54 C322.25,80.35 321.67,78.02 321.00,75.77 C320.33,73.52 319.67,71.45 319.00,70.03 C318.33,68.62 317.57,67.83 317.00,67.29 C316.43,66.75 316.10,66.83 315.60,66.80 C315.10,66.77 314.60,66.55 314.00,67.09 C313.40,67.63 312.67,68.34 312.00,70.03 C311.33,71.73 310.67,74.02 310.00,77.27 C309.33,80.52 308.67,84.72 308.00,89.54 C307.33,94.37 306.67,100.07 306.00,106.21 C305.33,112.34 304.73,119.55 304.00,126.36 C303.27,133.17 302.00,143.61 301.60,147.06 Z" fill="#9c9cff" stroke="none" stroke-width="1" fill-opacity="0.62"/>
<path d="M301.60,146.00 C302.00,144.00 303.27,137.50 304.00,134.00 C304.73,130.50 305.33,128.00 306.00,125.00 C306.67,122.00 307.33,118.92 308.00,116.00 C308.67,113.08 309.33,110.08 310.00,107.50 C310.67,104.92 311.33,102.58 312.00,100.50 C312.67,98.42 313.33,96.53 314.00,95.00 C314.67,93.47 315.23,92.20 316.00,91.30 C316.77,90.40 317.77,89.77 318.60,89.60 C319.43,89.43 320.27,89.77 321.00,90.30 C321.73,90.83 322.33,91.43 323.00,92.80 C323.67,94.17 324.17,95.97 325.00,98.50 C325.83,101.03 326.93,104.32 328.00,108.00 C329.07,111.68 330.32,117.18 331.40,120.60 C332.48,124.02 333.42,126.15 334.50,128.50 C335.58,130.85 336.82,132.87 337.90,134.70 C338.98,136.53 339.93,138.10 341.00,139.50 C342.07,140.90 343.22,141.98 344.30,143.10 C345.38,144.22 346.43,145.25 347.50,146.20 C348.57,147.15 349.10,147.72 350.70,148.80 C352.30,149.88 354.95,151.62 357.10,152.70 C359.25,153.78 361.45,154.65 363.60,155.30 C365.75,155.95 367.87,156.18 370.00,156.60 C372.13,157.02 374.27,157.52 376.40,157.80 C378.53,158.08 380.53,158.17 382.80,158.30 C385.07,158.43 387.13,158.40 390.00,158.60 C392.87,158.80 396.67,159.22 400.00,159.50 C403.33,159.78 407.00,160.08 410.00,160.30 C413.00,160.52 415.33,160.55 418.00,160.80 C420.67,161.05 423.17,161.37 426.00,161.80 C428.83,162.23 431.58,162.82 435.00,163.40 C438.42,163.98 444.58,164.98 446.50,165.30" fill="none" stroke="#ff3030" stroke-width="0.9"/>
<path d="M301.60,146.00 C302.00,142.17 303.27,130.33 304.00,123.00 C304.73,115.67 305.33,108.50 306.00,102.00 C306.67,95.50 307.33,89.33 308.00,84.00 C308.67,78.67 309.33,73.83 310.00,70.00 C310.67,66.17 311.33,63.20 312.00,61.00 C312.67,58.80 313.40,57.60 314.00,56.80 C314.60,56.00 315.10,56.17 315.60,56.20 C316.10,56.23 316.43,56.20 317.00,57.00 C317.57,57.80 318.33,59.08 319.00,61.00 C319.67,62.92 320.33,65.67 321.00,68.50 C321.67,71.33 322.25,74.25 323.00,78.00 C323.75,81.75 324.73,87.25 325.50,91.00 C326.27,94.75 326.62,96.22 327.60,100.50 C328.58,104.78 330.25,112.53 331.40,116.70 C332.55,120.87 333.42,122.82 334.50,125.50 C335.58,128.18 336.82,130.47 337.90,132.80 C338.98,135.13 339.93,137.58 341.00,139.50 C342.07,141.42 343.22,142.85 344.30,144.30 C345.38,145.75 346.43,147.02 347.50,148.20 C348.57,149.38 349.62,150.50 350.70,151.40 C351.78,152.30 352.93,152.95 354.00,153.60 C355.07,154.25 356.05,154.68 357.10,155.30 C358.15,155.92 359.22,156.67 360.30,157.30 C361.38,157.93 362.52,158.50 363.60,159.10 C364.68,159.70 365.73,160.37 366.80,160.90 C367.87,161.43 368.40,161.78 370.00,162.30 C371.60,162.82 374.27,163.57 376.40,164.00 C378.53,164.43 380.53,164.65 382.80,164.90 C385.07,165.15 387.13,165.33 390.00,165.50 C392.87,165.67 390.58,165.80 400.00,165.90 C409.42,166.00 438.75,166.07 446.50,166.10" fill="none" stroke="#2020ff" stroke-width="1.0"/>
<line x1="301.60" y1="21.30" x2="301.60" y2="166.30" stroke="#262626" stroke-width="0.9"/>
<line x1="299.80" y1="166.30" x2="301.60" y2="166.30" stroke="#262626" stroke-width="0.8"/>
<line x1="299.80" y1="137.30" x2="301.60" y2="137.30" stroke="#262626" stroke-width="0.8"/>
<line x1="299.80" y1="108.30" x2="301.60" y2="108.30" stroke="#262626" stroke-width="0.8"/>
<line x1="299.80" y1="79.30" x2="301.60" y2="79.30" stroke="#262626" stroke-width="0.8"/>
<line x1="299.80" y1="50.30" x2="301.60" y2="50.30" stroke="#262626" stroke-width="0.8"/>
<line x1="299.80" y1="21.30" x2="301.60" y2="21.30" stroke="#262626" stroke-width="0.8"/>
<line x1="301.60" y1="166.30" x2="446.80" y2="166.30" stroke="#262626" stroke-width="0.9"/>
<line x1="340.00" y1="166.30" x2="340.00" y2="168.10" stroke="#262626" stroke-width="0.8"/>
<line x1="382.20" y1="166.30" x2="382.20" y2="168.10" stroke="#262626" stroke-width="0.8"/>
<line x1="424.40" y1="166.30" x2="424.40" y2="168.10" stroke="#262626" stroke-width="0.8"/>
<text x="298.20" y="25.00" font-size="9" text-anchor="end" fill="#222" stroke="#222" stroke-width="0.22">0.1</text>
<text x="298.30" y="169.50" font-size="9" text-anchor="end" fill="#222" stroke="#222" stroke-width="0.22">0</text>
<text x="340.00" y="178.60" font-size="9" text-anchor="middle" fill="#222" stroke="#222" stroke-width="0.22">0.02</text>
<text x="382.20" y="178.60" font-size="9" text-anchor="middle" fill="#222" stroke="#222" stroke-width="0.22">0.04</text>
<text x="424.40" y="178.60" font-size="9" text-anchor="middle" fill="#222" stroke="#222" stroke-width="0.22">0.06</text>
<text x="375.90" y="187.80" font-size="9.7" text-anchor="middle" fill="#222" stroke="#222" stroke-width="0.22">Reliability</text>
<text x="291.20" y="94.10" font-size="9.8" text-anchor="middle" fill="#222" transform="rotate(-90 291.2 94.1)" stroke="#222" stroke-width="0.22">Probability</text>
<text x="403.00" y="126.50" font-size="8.9" fill="#2020ff" stroke="#2020ff" stroke-width="0.22">Ctrl-Ab</text>
<text x="403.00" y="136.90" font-size="8.9" fill="#ff3030" stroke="#ff3030" stroke-width="0.22">GluN1-Ab</text>
<path d="M364.30,78.80 C364.67,78.17 365.83,76.37 366.50,75.00 C367.17,73.63 367.55,72.52 368.30,70.60 C369.05,68.68 370.07,65.80 371.00,63.50 C371.93,61.20 372.90,59.30 373.90,56.80 C374.90,54.30 375.78,51.10 377.00,48.50 C378.22,45.90 379.58,43.33 381.20,41.20 C382.82,39.07 384.90,37.32 386.70,35.70 C388.50,34.08 390.17,32.73 392.00,31.50 C393.83,30.27 395.53,29.15 397.70,28.30 C399.87,27.45 402.12,27.15 405.00,26.40 C407.88,25.65 411.67,24.57 415.00,23.80 C418.33,23.03 421.83,22.33 425.00,21.80 C428.17,21.27 432.50,20.80 434.00,20.60" fill="none" stroke="#ff3030" stroke-width="1.0"/>
<path d="M364.30,78.80 C364.67,77.67 365.83,74.30 366.50,72.00 C367.17,69.70 367.55,68.00 368.30,65.00 C369.05,62.00 370.07,57.50 371.00,54.00 C371.93,50.50 372.90,47.08 373.90,44.00 C374.90,40.92 375.78,38.12 377.00,35.50 C378.22,32.88 379.58,30.25 381.20,28.30 C382.82,26.35 384.90,24.88 386.70,23.80 C388.50,22.72 390.17,22.33 392.00,21.80 C393.83,21.27 394.70,20.92 397.70,20.60 C400.70,20.28 403.95,20.07 410.00,19.90 C416.05,19.73 430.00,19.65 434.00,19.60" fill="none" stroke="#2020ff" stroke-width="1.0"/>
<line x1="364.30" y1="19.20" x2="364.30" y2="78.80" stroke="#262626" stroke-width="0.9"/>
<line x1="362.80" y1="78.80" x2="364.30" y2="78.80" stroke="#262626" stroke-width="0.8"/>
<line x1="362.80" y1="66.88" x2="364.30" y2="66.88" stroke="#262626" stroke-width="0.8"/>
<line x1="362.80" y1="54.96" x2="364.30" y2="54.96" stroke="#262626" stroke-width="0.8"/>
<line x1="362.80" y1="43.04" x2="364.30" y2="43.04" stroke="#262626" stroke-width="0.8"/>
<line x1="362.80" y1="31.12" x2="364.30" y2="31.12" stroke="#262626" stroke-width="0.8"/>
<line x1="362.80" y1="19.20" x2="364.30" y2="19.20" stroke="#262626" stroke-width="0.8"/>
<line x1="364.30" y1="78.80" x2="434.00" y2="78.80" stroke="#262626" stroke-width="0.9"/>
<line x1="373.00" y1="78.80" x2="373.00" y2="80.30" stroke="#262626" stroke-width="0.8"/>
<line x1="385.70" y1="78.80" x2="385.70" y2="80.30" stroke="#262626" stroke-width="0.8"/>
<line x1="398.40" y1="78.80" x2="398.40" y2="80.30" stroke="#262626" stroke-width="0.8"/>
<line x1="411.10" y1="78.80" x2="411.10" y2="80.30" stroke="#262626" stroke-width="0.8"/>
<line x1="423.80" y1="78.80" x2="423.80" y2="80.30" stroke="#262626" stroke-width="0.8"/>
<text x="362.50" y="22.30" font-size="9" text-anchor="end" fill="#222" stroke="#222" stroke-width="0.22">1</text>
<text x="362.50" y="81.90" font-size="9" text-anchor="end" fill="#222" stroke="#222" stroke-width="0.22">0</text>
<text x="373.00" y="89.30" font-size="8.8" text-anchor="middle" fill="#222" stroke="#222" stroke-width="0.22">0.01</text>
<text x="398.40" y="89.30" font-size="8.8" text-anchor="middle" fill="#222" stroke="#222" stroke-width="0.22">0.03</text>
<text x="423.80" y="89.30" font-size="8.8" text-anchor="middle" fill="#222" stroke="#222" stroke-width="0.22">0.05</text>
<text x="398.60" y="99.90" font-size="8.8" text-anchor="middle" fill="#222" stroke="#222" stroke-width="0.22">Reliability</text>
<text x="403.20" y="75.10" font-size="8.9" text-anchor="middle" fill="#3a3a3a" stroke="#3a3a3a" stroke-width="0.22">Cum. Pr.</text>
<line x1="495.20" y1="66.82" x2="495.20" y2="71.13" stroke="#2020ff" stroke-width="0.9"/>
<line x1="495.20" y1="76.05" x2="495.20" y2="78.30" stroke="#2020ff" stroke-width="0.9"/>
<line x1="491.85" y1="66.82" x2="498.55" y2="66.82" stroke="#2020ff" stroke-width="0.9"/>
<line x1="491.85" y1="78.30" x2="498.55" y2="78.30" stroke="#2020ff" stroke-width="0.9"/>
<rect x="487.80" y="71.13" width="14.80" height="4.92" fill="#6a6aff" stroke="#2020ff" stroke-width="0.8"/>
<line x1="487.80" y1="74.41" x2="502.60" y2="74.41" stroke="#2020ff" stroke-width="0.9"/>
<line x1="510.20" y1="55.34" x2="510.20" y2="62.11" stroke="#ff3030" stroke-width="0.9"/>
<line x1="510.20" y1="69.90" x2="510.20" y2="77.90" stroke="#ff3030" stroke-width="0.9"/>
<line x1="506.90" y1="55.34" x2="513.50" y2="55.34" stroke="#ff3030" stroke-width="0.9"/>
<line x1="506.90" y1="77.90" x2="513.50" y2="77.90" stroke="#ff3030" stroke-width="0.9"/>
<rect x="502.60" y="62.11" width="15.20" height="7.79" fill="#ee7a7a" stroke="#ff3030" stroke-width="0.8"/>
<line x1="502.60" y1="66.82" x2="517.80" y2="66.82" stroke="#ff3030" stroke-width="0.9"/>
<line x1="507.80" y1="17.40" x2="511.80" y2="17.40" stroke="#ff3030" stroke-width="0.9"/>
<line x1="509.80" y1="15.40" x2="509.80" y2="19.40" stroke="#ff3030" stroke-width="0.9"/>
<circle cx="495.00" cy="73.20" r="1.75" fill="#fff" stroke="#111" stroke-width="0.85"/>
<circle cx="496.50" cy="75.20" r="1.75" fill="#fff" stroke="#111" stroke-width="0.85"/>
<circle cx="493.50" cy="76.30" r="1.75" fill="#fff" stroke="#111" stroke-width="0.85"/>
<circle cx="497.50" cy="77.20" r="1.75" fill="#fff" stroke="#111" stroke-width="0.85"/>
<circle cx="494.50" cy="74.50" r="1.75" fill="#fff" stroke="#111" stroke-width="0.85"/>
<circle cx="500.50" cy="76.50" r="1.75" fill="#fff" stroke="#111" stroke-width="0.85"/>
<circle cx="497.50" cy="67.90" r="1.75" fill="#fff" stroke="#111" stroke-width="0.85"/>
<circle cx="495.50" cy="69.20" r="1.75" fill="#fff" stroke="#111" stroke-width="0.85"/>
<circle cx="492.50" cy="70.00" r="1.75" fill="#fff" stroke="#111" stroke-width="0.85"/>
<circle cx="506.50" cy="17.30" r="1.75" fill="#fff" stroke="#111" stroke-width="0.85"/>
<circle cx="506.50" cy="54.40" r="1.75" fill="#fff" stroke="#111" stroke-width="0.85"/>
<circle cx="508.00" cy="62.50" r="1.75" fill="#fff" stroke="#111" stroke-width="0.85"/>
<circle cx="510.00" cy="63.50" r="1.75" fill="#fff" stroke="#111" stroke-width="0.85"/>
<circle cx="511.50" cy="65.00" r="1.75" fill="#fff" stroke="#111" stroke-width="0.85"/>
<circle cx="513.00" cy="66.10" r="1.75" fill="#fff" stroke="#111" stroke-width="0.85"/>
<circle cx="511.00" cy="67.50" r="1.75" fill="#fff" stroke="#111" stroke-width="0.85"/>
<circle cx="514.50" cy="69.80" r="1.75" fill="#fff" stroke="#111" stroke-width="0.85"/>
<circle cx="503.50" cy="77.40" r="1.75" fill="#fff" stroke="#111" stroke-width="0.85"/>
<line x1="483.90" y1="16.60" x2="483.90" y2="78.60" stroke="#262626" stroke-width="0.9"/>
<line x1="482.10" y1="16.60" x2="483.90" y2="16.60" stroke="#262626" stroke-width="0.8"/>
<line x1="482.10" y1="37.10" x2="483.90" y2="37.10" stroke="#262626" stroke-width="0.8"/>
<line x1="482.10" y1="57.60" x2="483.90" y2="57.60" stroke="#262626" stroke-width="0.8"/>
<line x1="482.10" y1="78.10" x2="483.90" y2="78.10" stroke="#262626" stroke-width="0.8"/>
<line x1="483.90" y1="78.60" x2="521.40" y2="78.60" stroke="#262626" stroke-width="0.9"/>
<text x="481.30" y="19.80" font-size="9" text-anchor="end" fill="#222" stroke="#222" stroke-width="0.22">0.04</text>
<text x="481.30" y="40.30" font-size="9" text-anchor="end" fill="#222" stroke="#222" stroke-width="0.22">0.03</text>
<text x="481.30" y="60.80" font-size="9" text-anchor="end" fill="#222" stroke="#222" stroke-width="0.22">0.02</text>
<text x="481.30" y="81.30" font-size="9" text-anchor="end" fill="#222" stroke="#222" stroke-width="0.22">0.01</text>
<text x="460.60" y="47.60" font-size="9.8" text-anchor="middle" fill="#222" transform="rotate(-90 460.6 47.6)" stroke="#222" stroke-width="0.22">Reliability</text>
<text x="502.10" y="88.50" font-size="8.6" text-anchor="middle" font-weight="bold" fill="#1a1a1a" stroke="#1a1a1a" stroke-width="0.22">p=0.019</text>
<line x1="496.00" y1="105.02" x2="496.00" y2="107.11" stroke="#2020ff" stroke-width="0.9"/>
<line x1="496.00" y1="120.70" x2="496.00" y2="121.74" stroke="#2020ff" stroke-width="0.9"/>
<line x1="492.75" y1="105.02" x2="499.25" y2="105.02" stroke="#2020ff" stroke-width="0.9"/>
<line x1="492.75" y1="121.74" x2="499.25" y2="121.74" stroke="#2020ff" stroke-width="0.9"/>
<rect x="488.30" y="107.11" width="15.40" height="13.59" fill="#6a6aff" stroke="#2020ff" stroke-width="0.8"/>
<line x1="488.30" y1="115.47" x2="503.70" y2="115.47" stroke="#2020ff" stroke-width="0.9"/>
<line x1="510.90" y1="112.34" x2="510.90" y2="119.13" stroke="#ff3030" stroke-width="0.9"/>
<line x1="510.90" y1="129.58" x2="510.90" y2="131.67" stroke="#ff3030" stroke-width="0.9"/>
<line x1="507.65" y1="112.34" x2="514.15" y2="112.34" stroke="#ff3030" stroke-width="0.9"/>
<line x1="507.65" y1="131.67" x2="514.15" y2="131.67" stroke="#ff3030" stroke-width="0.9"/>
<rect x="503.20" y="119.13" width="15.40" height="10.45" fill="#ee7a7a" stroke="#ff3030" stroke-width="0.8"/>
<line x1="503.20" y1="123.83" x2="518.60" y2="123.83" stroke="#ff3030" stroke-width="0.9"/>
<line x1="509.20" y1="162.00" x2="513.20" y2="162.00" stroke="#ff3030" stroke-width="0.9"/>
<line x1="511.20" y1="160.00" x2="511.20" y2="164.00" stroke="#ff3030" stroke-width="0.9"/>
<circle cx="500.50" cy="105.20" r="1.75" fill="#fff" stroke="#111" stroke-width="0.85"/>
<circle cx="497.50" cy="107.00" r="1.75" fill="#fff" stroke="#111" stroke-width="0.85"/>
<circle cx="494.00" cy="108.60" r="1.75" fill="#fff" stroke="#111" stroke-width="0.85"/>
<circle cx="500.00" cy="111.90" r="1.75" fill="#fff" stroke="#111" stroke-width="0.85"/>
<circle cx="500.00" cy="115.30" r="1.75" fill="#fff" stroke="#111" stroke-width="0.85"/>
<circle cx="494.50" cy="116.40" r="1.75" fill="#fff" stroke="#111" stroke-width="0.85"/>
<circle cx="491.00" cy="120.10" r="1.75" fill="#fff" stroke="#111" stroke-width="0.85"/>
<circle cx="496.50" cy="120.30" r="1.75" fill="#fff" stroke="#111" stroke-width="0.85"/>
<circle cx="500.50" cy="123.40" r="1.75" fill="#fff" stroke="#111" stroke-width="0.85"/>
<circle cx="515.50" cy="112.10" r="1.75" fill="#fff" stroke="#111" stroke-width="0.85"/>
<circle cx="509.00" cy="117.00" r="1.75" fill="#fff" stroke="#111" stroke-width="0.85"/>
<circle cx="509.50" cy="120.80" r="1.75" fill="#fff" stroke="#111" stroke-width="0.85"/>
<circle cx="512.00" cy="122.00" r="1.75" fill="#fff" stroke="#111" stroke-width="0.85"/>
<circle cx="516.00" cy="123.50" r="1.75" fill="#fff" stroke="#111" stroke-width="0.85"/>
<circle cx="510.50" cy="126.50" r="1.75" fill="#fff" stroke="#111" stroke-width="0.85"/>
<circle cx="508.00" cy="129.90" r="1.75" fill="#fff" stroke="#111" stroke-width="0.85"/>
<circle cx="510.00" cy="132.00" r="1.75" fill="#fff" stroke="#111" stroke-width="0.85"/>
<circle cx="513.00" cy="162.00" r="1.75" fill="#fff" stroke="#111" stroke-width="0.85"/>
<line x1="484.40" y1="104.60" x2="484.40" y2="167.20" stroke="#262626" stroke-width="0.9"/>
<line x1="482.60" y1="104.50" x2="484.40" y2="104.50" stroke="#262626" stroke-width="0.8"/>
<line x1="482.60" y1="125.40" x2="484.40" y2="125.40" stroke="#262626" stroke-width="0.8"/>
<line x1="482.60" y1="146.30" x2="484.40" y2="146.30" stroke="#262626" stroke-width="0.8"/>
<line x1="482.60" y1="167.20" x2="484.40" y2="167.20" stroke="#262626" stroke-width="0.8"/>
<line x1="484.40" y1="167.20" x2="522.70" y2="167.20" stroke="#262626" stroke-width="0.9"/>
<text x="481.50" y="107.70" font-size="9" text-anchor="end" fill="#222" stroke="#222" stroke-width="0.22">0.28</text>
<text x="481.50" y="128.60" font-size="9" text-anchor="end" fill="#222" stroke="#222" stroke-width="0.22">0.24</text>
<text x="481.50" y="149.50" font-size="9" text-anchor="end" fill="#222" stroke="#222" stroke-width="0.22">0.20</text>
<text x="481.50" y="170.40" font-size="9" text-anchor="end" fill="#222" stroke="#222" stroke-width="0.22">0.16</text>
<text x="460.00" y="135.50" font-size="9.9" text-anchor="middle" fill="#222" transform="rotate(-90 460.0 135.5)" stroke="#222" stroke-width="0.22">Latency (s)</text>
<text x="503.20" y="177.60" font-size="8.6" text-anchor="middle" font-weight="bold" fill="#1a1a1a" stroke="#1a1a1a" stroke-width="0.22">p=0.011</text>
<text x="0" y="0" font-size="15.5" font-weight="bold" fill="#1a1a1a" transform="translate(524.0 12.1) scale(1.08 1)">C</text>
<rect x="597.90" y="4.00" width="42.30" height="10.30" fill="#ececec" stroke="none" stroke-width="1"/>
<text x="619.00" y="12.20" font-size="9.0" text-anchor="middle" fill="#222" stroke="#222" stroke-width="0.22">Sig. PNs</text>
<line x1="566.20" y1="16.50" x2="566.20" y2="78.70" stroke="#262626" stroke-width="0.9"/>
<line x1="564.40" y1="78.00" x2="566.20" y2="78.00" stroke="#262626" stroke-width="0.8"/>
<line x1="564.40" y1="57.70" x2="566.20" y2="57.70" stroke="#262626" stroke-width="0.8"/>
<line x1="564.40" y1="37.40" x2="566.20" y2="37.40" stroke="#262626" stroke-width="0.8"/>
<line x1="564.40" y1="17.10" x2="566.20" y2="17.10" stroke="#262626" stroke-width="0.8"/>
<line x1="566.20" y1="78.70" x2="679.50" y2="78.70" stroke="#262626" stroke-width="0.9"/>
<line x1="603.50" y1="78.70" x2="603.50" y2="80.50" stroke="#262626" stroke-width="0.8"/>
<line x1="640.90" y1="78.70" x2="640.90" y2="80.50" stroke="#262626" stroke-width="0.8"/>
<line x1="678.60" y1="78.70" x2="678.60" y2="80.50" stroke="#262626" stroke-width="0.8"/>
<text x="563.00" y="20.30" font-size="9" text-anchor="end" fill="#222" stroke="#222" stroke-width="0.22">2.5</text>
<text x="563.00" y="40.60" font-size="9" text-anchor="end" fill="#222" stroke="#222" stroke-width="0.22">2.0</text>
<text x="563.00" y="60.90" font-size="9" text-anchor="end" fill="#222" stroke="#222" stroke-width="0.22">1.5</text>
<text x="563.00" y="81.20" font-size="9" text-anchor="end" fill="#222" stroke="#222" stroke-width="0.22">1.0</text>
<text x="567.60" y="19.80" font-size="9.3" fill="#222" stroke="#222" stroke-width="0.22">×10<tspan font-size="7" dy="-3.6">-2</tspan></text>
<path d="M603.50,59.30 L640.90,45.70 L678.60,31.00" fill="none" stroke="#d95319" stroke-width="0.9"/>
<line x1="603.50" y1="52.50" x2="603.50" y2="66.70" stroke="#d95319" stroke-width="1.25" stroke-opacity="0.78"/>
<line x1="640.90" y1="34.40" x2="640.90" y2="56.60" stroke="#d95319" stroke-width="1.25" stroke-opacity="0.78"/>
<line x1="678.60" y1="17.00" x2="678.60" y2="44.80" stroke="#d95319" stroke-width="1.25" stroke-opacity="0.78"/>
<rect x="602.10" y="57.90" width="2.80" height="2.80" fill="#d95319" stroke="none" stroke-width="1"/>
<rect x="639.50" y="44.30" width="2.80" height="2.80" fill="#d95319" stroke="none" stroke-width="1"/>
<rect x="677.20" y="29.60" width="2.80" height="2.80" fill="#d95319" stroke="none" stroke-width="1"/>
<path d="M603.50,75.80 L640.90,69.00 L678.60,54.80" fill="none" stroke="#2b7dcf" stroke-width="0.9"/>
<line x1="603.50" y1="73.00" x2="603.50" y2="78.30" stroke="#2b7dcf" stroke-width="1.25" stroke-opacity="0.78"/>
<line x1="640.90" y1="67.50" x2="640.90" y2="70.50" stroke="#2b7dcf" stroke-width="1.25" stroke-opacity="0.78"/>
<line x1="678.60" y1="53.80" x2="678.60" y2="55.80" stroke="#2b7dcf" stroke-width="1.25" stroke-opacity="0.78"/>
<rect x="602.10" y="74.40" width="2.80" height="2.80" fill="#2b7dcf" stroke="none" stroke-width="1"/>
<rect x="639.50" y="67.60" width="2.80" height="2.80" fill="#2b7dcf" stroke="none" stroke-width="1"/>
<rect x="677.20" y="53.40" width="2.80" height="2.80" fill="#2b7dcf" stroke="none" stroke-width="1"/>
<text x="598.80" y="36.20" font-size="8.9" text-anchor="middle" font-weight="bold" fill="#1a1a1a" stroke="#1a1a1a" stroke-width="0.22">p=0.006</text>
<text x="546.30" y="47.00" font-size="8.2" text-anchor="middle" fill="#222" transform="rotate(-90 546.3 47.0)" stroke="#222" stroke-width="0.22">Reliability</text>
<text x="603.50" y="88.40" font-size="9.5" text-anchor="middle" fill="#222" stroke="#222" stroke-width="0.22">0.3</text>
<text x="640.90" y="88.40" font-size="9.5" text-anchor="middle" fill="#222" stroke="#222" stroke-width="0.22">0.6</text>
<text x="678.60" y="88.40" font-size="9.5" text-anchor="middle" fill="#222" stroke="#222" stroke-width="0.22">1.2</text>
<line x1="566.70" y1="103.60" x2="566.70" y2="166.30" stroke="#262626" stroke-width="0.9"/>
<line x1="564.90" y1="162.40" x2="566.70" y2="162.40" stroke="#262626" stroke-width="0.8"/>
<line x1="564.90" y1="138.08" x2="566.70" y2="138.08" stroke="#262626" stroke-width="0.8"/>
<line x1="564.90" y1="123.85" x2="566.70" y2="123.85" stroke="#262626" stroke-width="0.8"/>
<line x1="564.90" y1="113.75" x2="566.70" y2="113.75" stroke="#262626" stroke-width="0.8"/>
<line x1="564.90" y1="105.92" x2="566.70" y2="105.92" stroke="#262626" stroke-width="0.8"/>
<line x1="566.70" y1="166.30" x2="679.50" y2="166.30" stroke="#262626" stroke-width="0.9"/>
<line x1="603.50" y1="166.30" x2="603.50" y2="168.10" stroke="#262626" stroke-width="0.8"/>
<line x1="640.90" y1="166.30" x2="640.90" y2="168.10" stroke="#262626" stroke-width="0.8"/>
<line x1="678.60" y1="166.30" x2="678.60" y2="168.10" stroke="#262626" stroke-width="0.8"/>
<text x="563.50" y="109.22" font-size="9.2" text-anchor="end" fill="#222" stroke="#222" stroke-width="0.22">0.5</text>
<text x="563.50" y="117.05" font-size="9.2" text-anchor="end" fill="#222" stroke="#222" stroke-width="0.22">0.4</text>
<text x="563.50" y="127.15" font-size="9.2" text-anchor="end" fill="#222" stroke="#222" stroke-width="0.22">0.3</text>
<text x="563.50" y="141.38" font-size="9.2" text-anchor="end" fill="#222" stroke="#222" stroke-width="0.22">0.2</text>
<text x="563.50" y="165.70" font-size="9.2" text-anchor="end" fill="#222" stroke="#222" stroke-width="0.22">0.1</text>
<path d="M603.50,158.80 L640.90,133.00 L678.60,108.60" fill="none" stroke="#d95319" stroke-width="0.9"/>
<line x1="603.50" y1="157.80" x2="603.50" y2="159.80" stroke="#d95319" stroke-width="1.25" stroke-opacity="0.78"/>
<line x1="640.90" y1="132.20" x2="640.90" y2="133.80" stroke="#d95319" stroke-width="1.25" stroke-opacity="0.78"/>
<line x1="678.60" y1="107.80" x2="678.60" y2="109.40" stroke="#d95319" stroke-width="1.25" stroke-opacity="0.78"/>
<rect x="602.10" y="157.40" width="2.80" height="2.80" fill="#d95319" stroke="none" stroke-width="1"/>
<rect x="639.50" y="131.60" width="2.80" height="2.80" fill="#d95319" stroke="none" stroke-width="1"/>
<rect x="677.20" y="107.20" width="2.80" height="2.80" fill="#d95319" stroke="none" stroke-width="1"/>
<path d="M603.50,154.30 L640.90,129.60 L678.60,105.20" fill="none" stroke="#2b7dcf" stroke-width="0.9"/>
<line x1="603.50" y1="153.50" x2="603.50" y2="155.10" stroke="#2b7dcf" stroke-width="1.25" stroke-opacity="0.78"/>
<line x1="640.90" y1="128.80" x2="640.90" y2="130.40" stroke="#2b7dcf" stroke-width="1.25" stroke-opacity="0.78"/>
<line x1="678.60" y1="104.40" x2="678.60" y2="106.00" stroke="#2b7dcf" stroke-width="1.25" stroke-opacity="0.78"/>
<rect x="602.10" y="152.90" width="2.80" height="2.80" fill="#2b7dcf" stroke="none" stroke-width="1"/>
<rect x="639.50" y="128.20" width="2.80" height="2.80" fill="#2b7dcf" stroke="none" stroke-width="1"/>
<rect x="677.20" y="103.80" width="2.80" height="2.80" fill="#2b7dcf" stroke="none" stroke-width="1"/>
<text x="598.80" y="121.00" font-size="8.9" text-anchor="middle" font-weight="bold" fill="#1a1a1a" stroke="#1a1a1a" stroke-width="0.22">p=0.006</text>
<text x="547.00" y="134.60" font-size="9.6" text-anchor="middle" fill="#222" transform="rotate(-90 547.0 134.6)" stroke="#222" stroke-width="0.22">Latency (s)</text>
<text x="603.50" y="177.60" font-size="9.5" text-anchor="middle" fill="#222" stroke="#222" stroke-width="0.22">0.3</text>
<text x="640.90" y="177.60" font-size="9.5" text-anchor="middle" fill="#222" stroke="#222" stroke-width="0.22">0.6</text>
<text x="678.60" y="177.60" font-size="9.5" text-anchor="middle" fill="#222" stroke="#222" stroke-width="0.22">1.2</text>
<text x="623.30" y="188.20" font-size="10.0" text-anchor="middle" fill="#222" stroke="#222" stroke-width="0.22">Transmission window (s)</text>
<text x="0" y="0" font-size="15.5" font-weight="bold" fill="#1a1a1a" transform="translate(-0.4 216.9) scale(1.08 1)">D</text>
<text x="63.00" y="223.80" font-size="9.75" font-weight="bold" fill="#1a1a1a" stroke="#1a1a1a" stroke-width="0.22">Matching index</text>
<text x="67.30" y="240.90" font-size="9.75" fill="#5a5ab0" stroke="#5a5ab0" stroke-width="0.22">Binarization</text>
<path d="M28.9,259 L28.9,244.9 L147.4,244.9 L147.4,272" fill="none" stroke="#4a4aaa" stroke-width="1.0"/>
<path d="M145.2,271.6 L147.4,275.2 L149.6,271.6 Z" fill="#4a4aaa" stroke="none" stroke-width="1"/>
<path d="M65.5,259 L65.5,249.3 L141.4,249.3 L141.4,299.5" fill="none" stroke="#4a4aaa" stroke-width="1.0"/>
<path d="M139.2,299.2 L141.4,302.8 L143.6,299.2 Z" fill="#4a4aaa" stroke="none" stroke-width="1"/>
<text x="18.60" y="269.80" font-size="10" fill="#222" stroke="#222" stroke-width="0.22">SE<tspan font-size="8.2" dy="1.9">m</tspan></text>
<text x="56.80" y="269.80" font-size="10" fill="#222" stroke="#222" stroke-width="0.22">SE<tspan font-size="8.2" dy="1.9">n</tspan></text>
<rect x="22.40" y="274.20" width="10.10" height="113.30" fill="#efefef" stroke="none" stroke-width="1"/>
<line x1="16.30" y1="282.29" x2="41.50" y2="282.29" stroke="#4a4a4a" stroke-width="0.75"/>
<line x1="16.30" y1="283.29" x2="41.50" y2="283.29" stroke="#e2e2e2" stroke-width="1.0"/>
<line x1="16.30" y1="290.39" x2="41.50" y2="290.39" stroke="#4a4a4a" stroke-width="0.75"/>
<line x1="16.30" y1="291.39" x2="41.50" y2="291.39" stroke="#e2e2e2" stroke-width="1.0"/>
<line x1="16.30" y1="298.48" x2="41.50" y2="298.48" stroke="#4a4a4a" stroke-width="0.75"/>
<line x1="16.30" y1="299.48" x2="41.50" y2="299.48" stroke="#e2e2e2" stroke-width="1.0"/>
<line x1="16.30" y1="306.57" x2="41.50" y2="306.57" stroke="#4a4a4a" stroke-width="0.75"/>
<line x1="16.30" y1="307.57" x2="41.50" y2="307.57" stroke="#e2e2e2" stroke-width="1.0"/>
<line x1="16.30" y1="314.66" x2="41.50" y2="314.66" stroke="#4a4a4a" stroke-width="0.75"/>
<line x1="16.30" y1="315.66" x2="41.50" y2="315.66" stroke="#e2e2e2" stroke-width="1.0"/>
<line x1="16.30" y1="322.76" x2="41.50" y2="322.76" stroke="#4a4a4a" stroke-width="0.75"/>
<line x1="16.30" y1="323.76" x2="41.50" y2="323.76" stroke="#e2e2e2" stroke-width="1.0"/>
<line x1="16.30" y1="330.85" x2="41.50" y2="330.85" stroke="#4a4a4a" stroke-width="0.75"/>
<line x1="16.30" y1="331.85" x2="41.50" y2="331.85" stroke="#e2e2e2" stroke-width="1.0"/>
<line x1="16.30" y1="338.94" x2="41.50" y2="338.94" stroke="#4a4a4a" stroke-width="0.75"/>
<line x1="16.30" y1="339.94" x2="41.50" y2="339.94" stroke="#e2e2e2" stroke-width="1.0"/>
<line x1="16.30" y1="347.04" x2="41.50" y2="347.04" stroke="#4a4a4a" stroke-width="0.75"/>
<line x1="16.30" y1="348.04" x2="41.50" y2="348.04" stroke="#e2e2e2" stroke-width="1.0"/>
<line x1="16.30" y1="355.13" x2="41.50" y2="355.13" stroke="#4a4a4a" stroke-width="0.75"/>
<line x1="16.30" y1="356.13" x2="41.50" y2="356.13" stroke="#e2e2e2" stroke-width="1.0"/>
<line x1="16.30" y1="363.22" x2="41.50" y2="363.22" stroke="#4a4a4a" stroke-width="0.75"/>
<line x1="16.30" y1="364.22" x2="41.50" y2="364.22" stroke="#e2e2e2" stroke-width="1.0"/>
<line x1="16.30" y1="371.31" x2="41.50" y2="371.31" stroke="#4a4a4a" stroke-width="0.75"/>
<line x1="16.30" y1="372.31" x2="41.50" y2="372.31" stroke="#e2e2e2" stroke-width="1.0"/>
<line x1="16.30" y1="379.41" x2="41.50" y2="379.41" stroke="#4a4a4a" stroke-width="0.75"/>
<line x1="16.30" y1="380.41" x2="41.50" y2="380.41" stroke="#e2e2e2" stroke-width="1.0"/>
<line x1="24.70" y1="276.40" x2="24.70" y2="280.60" stroke="#222" stroke-width="0.9"/>
<line x1="28.90" y1="276.40" x2="28.90" y2="280.60" stroke="#222" stroke-width="0.9"/>
<line x1="28.50" y1="292.59" x2="28.50" y2="296.79" stroke="#222" stroke-width="0.9"/>
<line x1="23.80" y1="300.68" x2="23.80" y2="304.88" stroke="#222" stroke-width="0.9"/>
<line x1="23.60" y1="316.86" x2="23.60" y2="321.06" stroke="#222" stroke-width="0.9"/>
<line x1="26.10" y1="316.86" x2="26.10" y2="321.06" stroke="#222" stroke-width="0.9"/>
<line x1="27.40" y1="341.14" x2="27.40" y2="345.34" stroke="#222" stroke-width="0.9"/>
<line x1="24.50" y1="349.24" x2="24.50" y2="353.44" stroke="#222" stroke-width="0.9"/>
<line x1="24.50" y1="365.42" x2="24.50" y2="369.62" stroke="#222" stroke-width="0.9"/>
<line x1="28.60" y1="365.42" x2="28.60" y2="369.62" stroke="#222" stroke-width="0.9"/>
<line x1="30.30" y1="365.42" x2="30.30" y2="369.62" stroke="#222" stroke-width="0.9"/>
<line x1="29.20" y1="373.51" x2="29.20" y2="377.71" stroke="#222" stroke-width="0.9"/>
<rect x="16.30" y="274.20" width="25.20" height="113.30" fill="none" stroke="#2a2a2a" stroke-width="1.0"/>
<rect x="57.00" y="274.20" width="15.90" height="113.30" fill="#efefef" stroke="none" stroke-width="1"/>
<line x1="53.20" y1="282.29" x2="78.60" y2="282.29" stroke="#4a4a4a" stroke-width="0.75"/>
<line x1="53.20" y1="283.29" x2="78.60" y2="283.29" stroke="#e2e2e2" stroke-width="1.0"/>
<line x1="53.20" y1="290.39" x2="78.60" y2="290.39" stroke="#4a4a4a" stroke-width="0.75"/>
<line x1="53.20" y1="291.39" x2="78.60" y2="291.39" stroke="#e2e2e2" stroke-width="1.0"/>
<line x1="53.20" y1="298.48" x2="78.60" y2="298.48" stroke="#4a4a4a" stroke-width="0.75"/>
<line x1="53.20" y1="299.48" x2="78.60" y2="299.48" stroke="#e2e2e2" stroke-width="1.0"/>
<line x1="53.20" y1="306.57" x2="78.60" y2="306.57" stroke="#4a4a4a" stroke-width="0.75"/>
<line x1="53.20" y1="307.57" x2="78.60" y2="307.57" stroke="#e2e2e2" stroke-width="1.0"/>
<line x1="53.20" y1="314.66" x2="78.60" y2="314.66" stroke="#4a4a4a" stroke-width="0.75"/>
<line x1="53.20" y1="315.66" x2="78.60" y2="315.66" stroke="#e2e2e2" stroke-width="1.0"/>
<line x1="53.20" y1="322.76" x2="78.60" y2="322.76" stroke="#4a4a4a" stroke-width="0.75"/>
<line x1="53.20" y1="323.76" x2="78.60" y2="323.76" stroke="#e2e2e2" stroke-width="1.0"/>
<line x1="53.20" y1="330.85" x2="78.60" y2="330.85" stroke="#4a4a4a" stroke-width="0.75"/>
<line x1="53.20" y1="331.85" x2="78.60" y2="331.85" stroke="#e2e2e2" stroke-width="1.0"/>
<line x1="53.20" y1="338.94" x2="78.60" y2="338.94" stroke="#4a4a4a" stroke-width="0.75"/>
<line x1="53.20" y1="339.94" x2="78.60" y2="339.94" stroke="#e2e2e2" stroke-width="1.0"/>
<line x1="53.20" y1="347.04" x2="78.60" y2="347.04" stroke="#4a4a4a" stroke-width="0.75"/>
<line x1="53.20" y1="348.04" x2="78.60" y2="348.04" stroke="#e2e2e2" stroke-width="1.0"/>
<line x1="53.20" y1="355.13" x2="78.60" y2="355.13" stroke="#4a4a4a" stroke-width="0.75"/>
<line x1="53.20" y1="356.13" x2="78.60" y2="356.13" stroke="#e2e2e2" stroke-width="1.0"/>
<line x1="53.20" y1="363.22" x2="78.60" y2="363.22" stroke="#4a4a4a" stroke-width="0.75"/>
<line x1="53.20" y1="364.22" x2="78.60" y2="364.22" stroke="#e2e2e2" stroke-width="1.0"/>
<line x1="53.20" y1="371.31" x2="78.60" y2="371.31" stroke="#4a4a4a" stroke-width="0.75"/>
<line x1="53.20" y1="372.31" x2="78.60" y2="372.31" stroke="#e2e2e2" stroke-width="1.0"/>
<line x1="53.20" y1="379.41" x2="78.60" y2="379.41" stroke="#4a4a4a" stroke-width="0.75"/>
<line x1="53.20" y1="380.41" x2="78.60" y2="380.41" stroke="#e2e2e2" stroke-width="1.0"/>
<line x1="70.20" y1="276.40" x2="70.20" y2="280.60" stroke="#222" stroke-width="0.9"/>
<line x1="64.70" y1="284.49" x2="64.70" y2="288.69" stroke="#222" stroke-width="0.9"/>
<line x1="67.50" y1="284.49" x2="67.50" y2="288.69" stroke="#222" stroke-width="0.9"/>
<line x1="58.60" y1="292.59" x2="58.60" y2="296.79" stroke="#222" stroke-width="0.9"/>
<line x1="68.10" y1="308.77" x2="68.10" y2="312.97" stroke="#222" stroke-width="0.9"/>
<line x1="59.70" y1="316.86" x2="59.70" y2="321.06" stroke="#222" stroke-width="0.9"/>
<line x1="59.40" y1="333.05" x2="59.40" y2="337.25" stroke="#222" stroke-width="0.9"/>
<line x1="63.90" y1="333.05" x2="63.90" y2="337.25" stroke="#222" stroke-width="0.9"/>
<line x1="71.30" y1="333.05" x2="71.30" y2="337.25" stroke="#222" stroke-width="0.9"/>
<line x1="63.00" y1="349.24" x2="63.00" y2="353.44" stroke="#222" stroke-width="0.9"/>
<line x1="60.10" y1="357.33" x2="60.10" y2="361.53" stroke="#222" stroke-width="0.9"/>
<line x1="70.60" y1="357.33" x2="70.60" y2="361.53" stroke="#222" stroke-width="0.9"/>
<line x1="59.40" y1="373.51" x2="59.40" y2="377.71" stroke="#222" stroke-width="0.9"/>
<rect x="53.20" y="274.20" width="25.40" height="113.30" fill="none" stroke="#2a2a2a" stroke-width="1.0"/>
<circle cx="44.90" cy="331.50" r="0.5" fill="#333" stroke="none" stroke-width="0"/>
<circle cx="47.50" cy="331.50" r="0.5" fill="#333" stroke="none" stroke-width="0"/>
<circle cx="50.10" cy="331.50" r="0.5" fill="#333" stroke="none" stroke-width="0"/>
<text x="11.20" y="330.60" font-size="9.8" text-anchor="middle" fill="#222" transform="rotate(-90 11.2 330.6)" stroke="#222" stroke-width="0.22">PNs</text>
<text x="46.90" y="398.80" font-size="9.6" text-anchor="middle" fill="#222" stroke="#222" stroke-width="0.22">Time</text>
<rect x="90.70" y="276.20" width="6.39" height="11.10" fill="#f8e6cc" stroke="none" stroke-width="1"/>
<rect x="103.48" y="276.20" width="6.39" height="11.10" fill="#f8e6cc" stroke="none" stroke-width="1"/>
<rect x="109.87" y="276.20" width="6.39" height="11.10" fill="#f8e6cc" stroke="none" stroke-width="1"/>
<rect x="122.65" y="276.20" width="6.39" height="11.10" fill="#f8e6cc" stroke="none" stroke-width="1"/>
<rect x="141.82" y="276.20" width="6.39" height="11.10" fill="#f8e6cc" stroke="none" stroke-width="1"/>
<rect x="148.21" y="276.20" width="6.39" height="11.10" fill="#f8e6cc" stroke="none" stroke-width="1"/>
<rect x="160.99" y="276.20" width="6.39" height="11.10" fill="#f8e6cc" stroke="none" stroke-width="1"/>
<rect x="167.38" y="276.20" width="6.39" height="11.10" fill="#f8e6cc" stroke="none" stroke-width="1"/>
<line x1="97.09" y1="276.20" x2="97.09" y2="287.30" stroke="#b8b8b8" stroke-width="0.6"/>
<line x1="103.48" y1="276.20" x2="103.48" y2="287.30" stroke="#b8b8b8" stroke-width="0.6"/>
<line x1="109.87" y1="276.20" x2="109.87" y2="287.30" stroke="#b8b8b8" stroke-width="0.6"/>
<line x1="116.26" y1="276.20" x2="116.26" y2="287.30" stroke="#b8b8b8" stroke-width="0.6"/>
<line x1="122.65" y1="276.20" x2="122.65" y2="287.30" stroke="#b8b8b8" stroke-width="0.6"/>
<line x1="129.04" y1="276.20" x2="129.04" y2="287.30" stroke="#b8b8b8" stroke-width="0.6"/>
<line x1="135.43" y1="276.20" x2="135.43" y2="287.30" stroke="#b8b8b8" stroke-width="0.6"/>
<line x1="141.82" y1="276.20" x2="141.82" y2="287.30" stroke="#b8b8b8" stroke-width="0.6"/>
<line x1="148.21" y1="276.20" x2="148.21" y2="287.30" stroke="#b8b8b8" stroke-width="0.6"/>
<line x1="154.60" y1="276.20" x2="154.60" y2="287.30" stroke="#b8b8b8" stroke-width="0.6"/>
<line x1="160.99" y1="276.20" x2="160.99" y2="287.30" stroke="#b8b8b8" stroke-width="0.6"/>
<line x1="167.38" y1="276.20" x2="167.38" y2="287.30" stroke="#b8b8b8" stroke-width="0.6"/>
<line x1="173.77" y1="276.20" x2="173.77" y2="287.30" stroke="#b8b8b8" stroke-width="0.6"/>
<rect x="90.70" y="276.20" width="89.46" height="11.10" fill="none" stroke="#3a3a3a" stroke-width="1.2"/>
<text x="93.89" y="284.75" font-size="8.4" text-anchor="middle" fill="#1a1a1a" stroke="#1a1a1a" stroke-width="0.12">1</text>
<text x="0" y="0" font-size="8.8" text-anchor="middle" fill="#4a4a4a" stroke="#4a4a4a" stroke-width="0.1" transform="translate(100.28 284.85) scale(0.82 1)">0</text>
<text x="106.67" y="284.75" font-size="8.4" text-anchor="middle" fill="#1a1a1a" stroke="#1a1a1a" stroke-width="0.12">1</text>
<text x="113.06" y="284.75" font-size="8.4" text-anchor="middle" fill="#1a1a1a" stroke="#1a1a1a" stroke-width="0.12">1</text>
<text x="0" y="0" font-size="8.8" text-anchor="middle" fill="#4a4a4a" stroke="#4a4a4a" stroke-width="0.1" transform="translate(119.45 284.85) scale(0.82 1)">0</text>
<text x="125.84" y="284.75" font-size="8.4" text-anchor="middle" fill="#1a1a1a" stroke="#1a1a1a" stroke-width="0.12">1</text>
<text x="0" y="0" font-size="8.8" text-anchor="middle" fill="#4a4a4a" stroke="#4a4a4a" stroke-width="0.1" transform="translate(132.23 284.85) scale(0.82 1)">0</text>
<text x="0" y="0" font-size="8.8" text-anchor="middle" fill="#4a4a4a" stroke="#4a4a4a" stroke-width="0.1" transform="translate(138.62 284.85) scale(0.82 1)">0</text>
<text x="145.01" y="284.75" font-size="8.4" text-anchor="middle" fill="#1a1a1a" stroke="#1a1a1a" stroke-width="0.12">1</text>
<text x="151.41" y="284.75" font-size="8.4" text-anchor="middle" fill="#1a1a1a" stroke="#1a1a1a" stroke-width="0.12">1</text>
<text x="0" y="0" font-size="8.8" text-anchor="middle" fill="#4a4a4a" stroke="#4a4a4a" stroke-width="0.1" transform="translate(157.79 284.85) scale(0.82 1)">0</text>
<text x="164.19" y="284.75" font-size="8.4" text-anchor="middle" fill="#1a1a1a" stroke="#1a1a1a" stroke-width="0.12">1</text>
<text x="170.57" y="284.75" font-size="8.4" text-anchor="middle" fill="#1a1a1a" stroke="#1a1a1a" stroke-width="0.12">1</text>
<text x="0" y="0" font-size="8.8" text-anchor="middle" fill="#4a4a4a" stroke="#4a4a4a" stroke-width="0.1" transform="translate(176.96 284.85) scale(0.82 1)">0</text>
<rect x="90.70" y="303.70" width="6.39" height="11.60" fill="#cceaf6" stroke="none" stroke-width="1"/>
<rect x="97.09" y="303.70" width="6.39" height="11.60" fill="#cceaf6" stroke="none" stroke-width="1"/>
<rect x="103.48" y="303.70" width="6.39" height="11.60" fill="#cceaf6" stroke="none" stroke-width="1"/>
<rect x="116.26" y="303.70" width="6.39" height="11.60" fill="#cceaf6" stroke="none" stroke-width="1"/>
<rect x="122.65" y="303.70" width="6.39" height="11.60" fill="#cceaf6" stroke="none" stroke-width="1"/>
<rect x="135.43" y="303.70" width="6.39" height="11.60" fill="#cceaf6" stroke="none" stroke-width="1"/>
<rect x="148.21" y="303.70" width="6.39" height="11.60" fill="#cceaf6" stroke="none" stroke-width="1"/>
<rect x="154.60" y="303.70" width="6.39" height="11.60" fill="#cceaf6" stroke="none" stroke-width="1"/>
<rect x="167.38" y="303.70" width="6.39" height="11.60" fill="#cceaf6" stroke="none" stroke-width="1"/>
<line x1="97.09" y1="303.70" x2="97.09" y2="315.30" stroke="#b8b8b8" stroke-width="0.6"/>
<line x1="103.48" y1="303.70" x2="103.48" y2="315.30" stroke="#b8b8b8" stroke-width="0.6"/>
<line x1="109.87" y1="303.70" x2="109.87" y2="315.30" stroke="#b8b8b8" stroke-width="0.6"/>
<line x1="116.26" y1="303.70" x2="116.26" y2="315.30" stroke="#b8b8b8" stroke-width="0.6"/>
<line x1="122.65" y1="303.70" x2="122.65" y2="315.30" stroke="#b8b8b8" stroke-width="0.6"/>
<line x1="129.04" y1="303.70" x2="129.04" y2="315.30" stroke="#b8b8b8" stroke-width="0.6"/>
<line x1="135.43" y1="303.70" x2="135.43" y2="315.30" stroke="#b8b8b8" stroke-width="0.6"/>
<line x1="141.82" y1="303.70" x2="141.82" y2="315.30" stroke="#b8b8b8" stroke-width="0.6"/>
<line x1="148.21" y1="303.70" x2="148.21" y2="315.30" stroke="#b8b8b8" stroke-width="0.6"/>
<line x1="154.60" y1="303.70" x2="154.60" y2="315.30" stroke="#b8b8b8" stroke-width="0.6"/>
<line x1="160.99" y1="303.70" x2="160.99" y2="315.30" stroke="#b8b8b8" stroke-width="0.6"/>
<line x1="167.38" y1="303.70" x2="167.38" y2="315.30" stroke="#b8b8b8" stroke-width="0.6"/>
<line x1="173.77" y1="303.70" x2="173.77" y2="315.30" stroke="#b8b8b8" stroke-width="0.6"/>
<rect x="90.70" y="303.70" width="89.46" height="11.60" fill="none" stroke="#3a3a3a" stroke-width="1.2"/>
<text x="93.89" y="312.50" font-size="8.4" text-anchor="middle" fill="#1a1a1a" stroke="#1a1a1a" stroke-width="0.12">1</text>
<text x="100.28" y="312.50" font-size="8.4" text-anchor="middle" fill="#1a1a1a" stroke="#1a1a1a" stroke-width="0.12">1</text>
<text x="106.67" y="312.50" font-size="8.4" text-anchor="middle" fill="#1a1a1a" stroke="#1a1a1a" stroke-width="0.12">1</text>
<text x="0" y="0" font-size="8.8" text-anchor="middle" fill="#4a4a4a" stroke="#4a4a4a" stroke-width="0.1" transform="translate(113.06 312.60) scale(0.82 1)">0</text>
<text x="119.45" y="312.50" font-size="8.4" text-anchor="middle" fill="#1a1a1a" stroke="#1a1a1a" stroke-width="0.12">1</text>
<text x="125.84" y="312.50" font-size="8.4" text-anchor="middle" fill="#1a1a1a" stroke="#1a1a1a" stroke-width="0.12">1</text>
<text x="0" y="0" font-size="8.8" text-anchor="middle" fill="#4a4a4a" stroke="#4a4a4a" stroke-width="0.1" transform="translate(132.23 312.60) scale(0.82 1)">0</text>
<text x="138.62" y="312.50" font-size="8.4" text-anchor="middle" fill="#1a1a1a" stroke="#1a1a1a" stroke-width="0.12">1</text>
<text x="0" y="0" font-size="8.8" text-anchor="middle" fill="#4a4a4a" stroke="#4a4a4a" stroke-width="0.1" transform="translate(145.01 312.60) scale(0.82 1)">0</text>
<text x="151.41" y="312.50" font-size="8.4" text-anchor="middle" fill="#1a1a1a" stroke="#1a1a1a" stroke-width="0.12">1</text>
<text x="157.79" y="312.50" font-size="8.4" text-anchor="middle" fill="#1a1a1a" stroke="#1a1a1a" stroke-width="0.12">1</text>
<text x="0" y="0" font-size="8.8" text-anchor="middle" fill="#4a4a4a" stroke="#4a4a4a" stroke-width="0.1" transform="translate(164.19 312.60) scale(0.82 1)">0</text>
<text x="170.57" y="312.50" font-size="8.4" text-anchor="middle" fill="#1a1a1a" stroke="#1a1a1a" stroke-width="0.12">1</text>
<text x="0" y="0" font-size="8.8" text-anchor="middle" fill="#4a4a4a" stroke="#4a4a4a" stroke-width="0.1" transform="translate(176.96 312.60) scale(0.82 1)">0</text>
<rect x="90.70" y="349.60" width="6.39" height="12.00" fill="#7ccf88" stroke="none" stroke-width="1"/>
<rect x="103.48" y="349.60" width="6.39" height="12.00" fill="#7ccf88" stroke="none" stroke-width="1"/>
<rect x="122.65" y="349.60" width="6.39" height="12.00" fill="#7ccf88" stroke="none" stroke-width="1"/>
<rect x="148.21" y="349.60" width="6.39" height="12.00" fill="#7ccf88" stroke="none" stroke-width="1"/>
<rect x="167.38" y="349.60" width="6.39" height="12.00" fill="#7ccf88" stroke="none" stroke-width="1"/>
<line x1="97.09" y1="349.60" x2="97.09" y2="361.60" stroke="#b8b8b8" stroke-width="0.6"/>
<line x1="103.48" y1="349.60" x2="103.48" y2="361.60" stroke="#b8b8b8" stroke-width="0.6"/>
<line x1="109.87" y1="349.60" x2="109.87" y2="361.60" stroke="#b8b8b8" stroke-width="0.6"/>
<line x1="116.26" y1="349.60" x2="116.26" y2="361.60" stroke="#b8b8b8" stroke-width="0.6"/>
<line x1="122.65" y1="349.60" x2="122.65" y2="361.60" stroke="#b8b8b8" stroke-width="0.6"/>
<line x1="129.04" y1="349.60" x2="129.04" y2="361.60" stroke="#b8b8b8" stroke-width="0.6"/>
<line x1="135.43" y1="349.60" x2="135.43" y2="361.60" stroke="#b8b8b8" stroke-width="0.6"/>
<line x1="141.82" y1="349.60" x2="141.82" y2="361.60" stroke="#b8b8b8" stroke-width="0.6"/>
<line x1="148.21" y1="349.60" x2="148.21" y2="361.60" stroke="#b8b8b8" stroke-width="0.6"/>
<line x1="154.60" y1="349.60" x2="154.60" y2="361.60" stroke="#b8b8b8" stroke-width="0.6"/>
<line x1="160.99" y1="349.60" x2="160.99" y2="361.60" stroke="#b8b8b8" stroke-width="0.6"/>
<line x1="167.38" y1="349.60" x2="167.38" y2="361.60" stroke="#b8b8b8" stroke-width="0.6"/>
<line x1="173.77" y1="349.60" x2="173.77" y2="361.60" stroke="#b8b8b8" stroke-width="0.6"/>
<rect x="90.70" y="349.60" width="89.46" height="12.00" fill="none" stroke="#3a3a3a" stroke-width="1.2"/>
<text x="93.89" y="358.60" font-size="8.4" text-anchor="middle" fill="#1a1a1a" stroke="#1a1a1a" stroke-width="0.12">1</text>
<text x="0" y="0" font-size="8.8" text-anchor="middle" fill="#4a4a4a" stroke="#4a4a4a" stroke-width="0.1" transform="translate(100.28 358.70) scale(0.82 1)">0</text>
<text x="106.67" y="358.60" font-size="8.4" text-anchor="middle" fill="#1a1a1a" stroke="#1a1a1a" stroke-width="0.12">1</text>
<text x="0" y="0" font-size="8.8" text-anchor="middle" fill="#4a4a4a" stroke="#4a4a4a" stroke-width="0.1" transform="translate(113.06 358.70) scale(0.82 1)">0</text>
<text x="0" y="0" font-size="8.8" text-anchor="middle" fill="#4a4a4a" stroke="#4a4a4a" stroke-width="0.1" transform="translate(119.45 358.70) scale(0.82 1)">0</text>
<text x="125.84" y="358.60" font-size="8.4" text-anchor="middle" fill="#1a1a1a" stroke="#1a1a1a" stroke-width="0.12">1</text>
<text x="0" y="0" font-size="8.8" text-anchor="middle" fill="#4a4a4a" stroke="#4a4a4a" stroke-width="0.1" transform="translate(132.23 358.70) scale(0.82 1)">0</text>
<text x="0" y="0" font-size="8.8" text-anchor="middle" fill="#4a4a4a" stroke="#4a4a4a" stroke-width="0.1" transform="translate(138.62 358.70) scale(0.82 1)">0</text>
<text x="0" y="0" font-size="8.8" text-anchor="middle" fill="#4a4a4a" stroke="#4a4a4a" stroke-width="0.1" transform="translate(145.01 358.70) scale(0.82 1)">0</text>
<text x="151.41" y="358.60" font-size="8.4" text-anchor="middle" fill="#1a1a1a" stroke="#1a1a1a" stroke-width="0.12">1</text>
<text x="0" y="0" font-size="8.8" text-anchor="middle" fill="#4a4a4a" stroke="#4a4a4a" stroke-width="0.1" transform="translate(157.79 358.70) scale(0.82 1)">0</text>
<text x="0" y="0" font-size="8.8" text-anchor="middle" fill="#4a4a4a" stroke="#4a4a4a" stroke-width="0.1" transform="translate(164.19 358.70) scale(0.82 1)">0</text>
<text x="170.57" y="358.60" font-size="8.4" text-anchor="middle" fill="#1a1a1a" stroke="#1a1a1a" stroke-width="0.12">1</text>
<text x="0" y="0" font-size="8.8" text-anchor="middle" fill="#4a4a4a" stroke="#4a4a4a" stroke-width="0.1" transform="translate(176.96 358.70) scale(0.82 1)">0</text>
<text x="163.60" y="272.60" font-size="10" fill="#222" stroke="#222" stroke-width="0.22">SE<tspan font-size="8.2" dy="1.9">m</tspan></text>
<text x="165.20" y="300.10" font-size="10" fill="#222" stroke="#222" stroke-width="0.22">SE<tspan font-size="8.2" dy="1.9">n</tspan></text>
<line x1="129.00" y1="287.30" x2="129.00" y2="303.70" stroke="#3cb054" stroke-width="0.9"/>
<line x1="129.00" y1="315.60" x2="129.00" y2="332.50" stroke="#3cb054" stroke-width="0.9"/>
<path d="M127.0,331.8 L129.0,335.3 L131.0,331.8 Z" fill="#3cb054" stroke="none" stroke-width="1"/>
<line x1="141.40" y1="315.60" x2="141.40" y2="332.50" stroke="#3cb054" stroke-width="0.9"/>
<path d="M139.4,331.8 L141.4,335.3 L143.4,331.8 Z" fill="#3cb054" stroke="none" stroke-width="1"/>
<text x="135.20" y="345.20" font-size="9.9" text-anchor="middle" fill="#3cb054" stroke="#3cb054" stroke-width="0.22">Matching</text>
<text x="102.50" y="375.70" font-size="8.7" fill="#222" stroke="#222" stroke-width="0.22">MI = 2</text>
<line x1="127.10" y1="372.50" x2="145.10" y2="372.50" stroke="#555" stroke-width="0.9"/>
<text x="136.20" y="370.50" font-size="8.6" text-anchor="middle" font-weight="bold" fill="#3aa64a" stroke="#3aa64a" stroke-width="0.22">5</text>
<text x="136.20" y="380.30" font-size="8.6" text-anchor="middle" font-weight="bold" fill="#222" stroke="#222" stroke-width="0.22"><tspan fill="#f08020" stroke="#f08020">8</tspan><tspan fill="#333" stroke="#333">+</tspan><tspan fill="#3aa0e0" stroke="#3aa0e0">9</tspan></text>
<text x="148.20" y="375.70" font-size="8.7" fill="#222" stroke="#222" stroke-width="0.22">= 0.59</text>
<text x="0" y="0" font-size="15.5" font-weight="bold" fill="#1a1a1a" transform="translate(190.6 217.4) scale(1.08 1)">E</text>
<rect x="248.00" y="214.70" width="85.10" height="10.70" fill="#ececec" stroke="none" stroke-width="1"/>
<text x="290.50" y="223.30" font-size="8.7" text-anchor="middle" fill="#222" stroke="#222" stroke-width="0.22">Sig. SE pattern pairs</text>
<path d="M219.80,373.00 C220.17,371.83 221.22,369.17 222.00,366.00 C222.78,362.83 223.67,358.33 224.50,354.00 C225.33,349.67 226.08,345.00 227.00,340.00 C227.92,335.00 229.00,328.67 230.00,324.00 C231.00,319.33 232.17,314.65 233.00,312.00 C233.83,309.35 234.33,310.37 235.00,308.10 C235.67,305.83 236.25,301.25 237.00,298.40 C237.75,295.55 238.73,292.68 239.50,291.00 C240.27,289.32 240.90,288.73 241.60,288.30 C242.30,287.87 242.87,287.85 243.70,288.40 C244.53,288.95 245.30,290.67 246.60,291.60 C247.90,292.53 250.13,293.32 251.50,294.00 C252.87,294.68 253.88,294.87 254.80,295.70 C255.72,296.53 256.17,297.48 257.00,299.00 C257.83,300.52 258.50,301.63 259.80,304.80 C261.10,307.97 263.15,313.32 264.80,318.00 C266.45,322.68 268.05,329.32 269.70,332.90 C271.35,336.48 273.05,337.30 274.70,339.50 C276.35,341.70 277.95,344.45 279.60,346.10 C281.25,347.75 282.87,348.75 284.60,349.40 C286.33,350.05 288.27,349.87 290.00,350.00 C291.73,350.13 293.33,350.07 295.00,350.20 C296.67,350.33 297.83,350.25 300.00,350.80 C302.17,351.35 304.83,352.20 308.00,353.50 C311.17,354.80 315.17,356.93 319.00,358.60 C322.83,360.27 326.83,361.98 331.00,363.50 C335.17,365.02 340.33,366.62 344.00,367.70 C347.67,368.78 350.17,369.37 353.00,370.00 C355.83,370.63 359.67,371.25 361.00,371.50 L361.00,373.50 C358.17,373.28 349.00,372.62 344.00,372.20 C339.00,371.78 335.17,371.48 331.00,371.00 C326.83,370.52 322.83,369.97 319.00,369.30 C315.17,368.63 311.17,367.80 308.00,367.00 C304.83,366.20 302.17,365.23 300.00,364.50 C297.83,363.77 296.67,363.35 295.00,362.60 C293.33,361.85 291.73,360.82 290.00,360.00 C288.27,359.18 286.33,358.50 284.60,357.70 C282.87,356.90 281.25,356.58 279.60,355.20 C277.95,353.82 276.35,351.33 274.70,349.40 C273.05,347.47 271.35,345.52 269.70,343.60 C268.05,341.68 266.45,340.52 264.80,337.90 C263.15,335.28 261.47,330.67 259.80,327.90 C258.13,325.13 256.18,322.82 254.80,321.30 C253.42,319.78 252.87,319.07 251.50,318.80 C250.13,318.53 247.85,319.75 246.60,319.70 C245.35,319.65 244.83,318.92 244.00,318.50 C243.17,318.08 242.43,316.62 241.60,317.20 C240.77,317.78 239.77,319.53 239.00,322.00 C238.23,324.47 237.67,328.80 237.00,332.00 C236.33,335.20 235.67,338.70 235.00,341.20 C234.33,343.70 233.83,344.70 233.00,347.00 C232.17,349.30 231.00,352.33 230.00,355.00 C229.00,357.67 227.92,360.67 227.00,363.00 C226.08,365.33 225.33,367.33 224.50,369.00 C223.67,370.67 222.78,372.17 222.00,373.00 C221.22,373.83 220.17,373.83 219.80,374.00 Z" fill="#f0a8a8" stroke="none" stroke-width="1" fill-opacity="0.72"/>
<path d="M219.80,373.00 C220.17,371.17 221.22,367.17 222.00,362.00 C222.78,356.83 223.67,349.33 224.50,342.00 C225.33,334.67 226.17,326.17 227.00,318.00 C227.83,309.83 228.75,300.50 229.50,293.00 C230.25,285.50 230.85,277.97 231.50,273.00 C232.15,268.03 232.82,264.45 233.40,263.20 C233.98,261.95 234.40,264.65 235.00,265.50 C235.60,266.35 236.33,269.22 237.00,268.30 C237.67,267.38 238.30,262.32 239.00,260.00 C239.70,257.68 240.45,254.23 241.20,254.40 C241.95,254.57 242.78,258.90 243.50,261.00 C244.22,263.10 244.87,264.92 245.50,267.00 C246.13,269.08 246.30,270.25 247.30,273.50 C248.30,276.75 250.25,282.33 251.50,286.50 C252.75,290.67 253.42,293.67 254.80,298.50 C256.18,303.33 258.13,310.32 259.80,315.50 C261.47,320.68 263.15,325.52 264.80,329.60 C266.45,333.68 268.05,337.10 269.70,340.00 C271.35,342.90 273.05,344.92 274.70,347.00 C276.35,349.08 277.95,350.75 279.60,352.50 C281.25,354.25 282.87,356.08 284.60,357.50 C286.33,358.92 288.27,360.00 290.00,361.00 C291.73,362.00 293.33,362.67 295.00,363.50 C296.67,364.33 298.17,365.17 300.00,366.00 C301.83,366.83 302.83,367.58 306.00,368.50 C309.17,369.42 313.33,370.75 319.00,371.50 C324.67,372.25 333.00,372.67 340.00,373.00 C347.00,373.33 357.50,373.42 361.00,373.50 L361.00,373.90 C354.00,373.83 328.17,373.82 319.00,373.50 C309.83,373.18 309.17,372.45 306.00,372.00 C302.83,371.55 301.83,371.30 300.00,370.80 C298.17,370.30 296.67,369.63 295.00,369.00 C293.33,368.37 291.73,367.83 290.00,367.00 C288.27,366.17 286.33,365.25 284.60,364.00 C282.87,362.75 281.25,361.00 279.60,359.50 C277.95,358.00 276.35,356.75 274.70,355.00 C273.05,353.25 271.35,351.58 269.70,349.00 C268.05,346.42 266.45,342.83 264.80,339.50 C263.15,336.17 261.47,333.50 259.80,329.00 C258.13,324.50 256.18,317.17 254.80,312.50 C253.42,307.83 252.75,305.07 251.50,301.00 C250.25,296.93 248.55,291.27 247.30,288.10 C246.05,284.93 244.97,283.47 244.00,282.00 C243.03,280.53 242.33,278.30 241.50,279.30 C240.67,280.30 239.75,285.22 239.00,288.00 C238.25,290.78 237.67,294.33 237.00,296.00 C236.33,297.67 235.67,297.33 235.00,298.00 C234.33,298.67 233.58,297.33 233.00,300.00 C232.42,302.67 232.08,308.50 231.50,314.00 C230.92,319.50 230.25,327.00 229.50,333.00 C228.75,339.00 227.83,344.67 227.00,350.00 C226.17,355.33 225.33,361.33 224.50,365.00 C223.67,368.67 222.78,370.50 222.00,372.00 C221.22,373.50 220.17,373.67 219.80,374.00 Z" fill="#9c9cff" stroke="none" stroke-width="1" fill-opacity="0.62"/>
<path d="M219.80,373.50 C220.17,372.92 221.22,371.92 222.00,370.00 C222.78,368.08 223.68,364.90 224.50,362.00 C225.32,359.10 226.15,355.77 226.90,352.60 C227.65,349.43 228.23,345.93 229.00,343.00 C229.77,340.07 230.50,337.52 231.50,335.00 C232.50,332.48 234.17,330.40 235.00,327.90 C235.83,325.40 235.92,322.98 236.50,320.00 C237.08,317.02 237.65,312.82 238.50,310.00 C239.35,307.18 240.68,304.17 241.60,303.10 C242.52,302.03 243.17,303.18 244.00,303.60 C244.83,304.02 245.35,305.13 246.60,305.60 C247.85,306.07 250.13,305.85 251.50,306.40 C252.87,306.95 253.88,307.80 254.80,308.90 C255.72,310.00 256.17,311.20 257.00,313.00 C257.83,314.80 258.50,316.67 259.80,319.70 C261.10,322.73 263.15,327.90 264.80,331.20 C266.45,334.50 268.05,337.28 269.70,339.50 C271.35,341.72 273.05,342.58 274.70,344.50 C276.35,346.42 277.95,349.48 279.60,351.00 C281.25,352.52 282.87,352.93 284.60,353.60 C286.33,354.27 288.27,354.45 290.00,355.00 C291.73,355.55 293.33,356.43 295.00,356.90 C296.67,357.37 297.83,357.28 300.00,357.80 C302.17,358.32 304.83,359.05 308.00,360.00 C311.17,360.95 315.17,362.33 319.00,363.50 C322.83,364.67 326.83,365.90 331.00,367.00 C335.17,368.10 340.33,369.30 344.00,370.10 C347.67,370.90 350.17,371.40 353.00,371.80 C355.83,372.20 359.67,372.38 361.00,372.50" fill="none" stroke="#ff3030" stroke-width="0.8"/>
<path d="M219.80,373.50 C220.17,372.58 221.22,371.25 222.00,368.00 C222.78,364.75 223.67,359.67 224.50,354.00 C225.33,348.33 226.25,340.00 227.00,334.00 C227.75,328.00 228.25,323.33 229.00,318.00 C229.75,312.67 230.83,306.67 231.50,302.00 C232.17,297.33 232.50,293.17 233.00,290.00 C233.50,286.83 233.95,284.42 234.50,283.00 C235.05,281.58 235.63,282.83 236.30,281.50 C236.97,280.17 237.68,277.52 238.50,275.00 C239.32,272.48 240.45,267.32 241.20,266.40 C241.95,265.48 242.25,267.57 243.00,269.50 C243.75,271.43 244.87,275.50 245.70,278.00 C246.53,280.50 247.03,281.68 248.00,284.50 C248.97,287.32 250.37,291.25 251.50,294.90 C252.63,298.55 253.42,301.72 254.80,306.40 C256.18,311.08 258.13,318.32 259.80,323.00 C261.47,327.68 263.15,330.92 264.80,334.50 C266.45,338.08 268.05,341.75 269.70,344.50 C271.35,347.25 273.05,349.08 274.70,351.00 C276.35,352.92 277.95,354.33 279.60,356.00 C281.25,357.67 282.87,359.67 284.60,361.00 C286.33,362.33 288.27,363.17 290.00,364.00 C291.73,364.83 293.33,365.25 295.00,366.00 C296.67,366.75 298.17,367.75 300.00,368.50 C301.83,369.25 302.83,369.83 306.00,370.50 C309.17,371.17 313.33,372.03 319.00,372.50 C324.67,372.97 333.00,373.12 340.00,373.30 C347.00,373.48 357.50,373.55 361.00,373.60" fill="none" stroke="#2020ff" stroke-width="0.9"/>
<line x1="219.80" y1="233.90" x2="219.80" y2="373.90" stroke="#262626" stroke-width="0.9"/>
<line x1="218.00" y1="373.90" x2="219.80" y2="373.90" stroke="#262626" stroke-width="0.8"/>
<line x1="218.00" y1="338.90" x2="219.80" y2="338.90" stroke="#262626" stroke-width="0.8"/>
<line x1="218.00" y1="303.90" x2="219.80" y2="303.90" stroke="#262626" stroke-width="0.8"/>
<line x1="218.00" y1="268.90" x2="219.80" y2="268.90" stroke="#262626" stroke-width="0.8"/>
<line x1="218.00" y1="233.90" x2="219.80" y2="233.90" stroke="#262626" stroke-width="0.8"/>
<line x1="219.80" y1="373.90" x2="361.10" y2="373.90" stroke="#262626" stroke-width="0.9"/>
<line x1="243.50" y1="373.90" x2="243.50" y2="375.70" stroke="#262626" stroke-width="0.8"/>
<line x1="268.70" y1="373.90" x2="268.70" y2="375.70" stroke="#262626" stroke-width="0.8"/>
<line x1="293.90" y1="373.90" x2="293.90" y2="375.70" stroke="#262626" stroke-width="0.8"/>
<line x1="319.10" y1="373.90" x2="319.10" y2="375.70" stroke="#262626" stroke-width="0.8"/>
<line x1="344.30" y1="373.90" x2="344.30" y2="375.70" stroke="#262626" stroke-width="0.8"/>
<text x="217.80" y="237.20" font-size="9" text-anchor="end" fill="#222" stroke="#222" stroke-width="0.22">0.02</text>
<text x="217.00" y="377.00" font-size="9" text-anchor="end" fill="#222" stroke="#222" stroke-width="0.22">0</text>
<text x="243.50" y="385.20" font-size="9" text-anchor="middle" fill="#222" stroke="#222" stroke-width="0.22">0.2</text>
<text x="268.70" y="385.20" font-size="9" text-anchor="middle" fill="#222" stroke="#222" stroke-width="0.22">0.3</text>
<text x="293.90" y="385.20" font-size="9" text-anchor="middle" fill="#222" stroke="#222" stroke-width="0.22">0.4</text>
<text x="319.10" y="385.20" font-size="9" text-anchor="middle" fill="#222" stroke="#222" stroke-width="0.22">0.5</text>
<text x="344.30" y="385.20" font-size="9" text-anchor="middle" fill="#222" stroke="#222" stroke-width="0.22">0.6</text>
<text x="290.60" y="395.70" font-size="9.7" text-anchor="middle" fill="#222" stroke="#222" stroke-width="0.22">MI: matching index</text>
<text x="210.20" y="305.00" font-size="9.8" text-anchor="middle" fill="#222" transform="rotate(-90 210.2 305.0)" stroke="#222" stroke-width="0.22">Probability</text>
<text x="317.00" y="330.50" font-size="8.9" fill="#2020ff" stroke="#2020ff" stroke-width="0.22">Ctrl-Ab</text>
<text x="317.00" y="340.40" font-size="8.9" fill="#ff3030" stroke="#ff3030" stroke-width="0.22">GluN1-Ab</text>
<path d="M291.50,287.70 C291.88,287.70 292.97,288.07 293.80,287.70 C294.63,287.33 295.53,286.47 296.50,285.50 C297.47,284.53 298.68,283.65 299.60,281.90 C300.52,280.15 301.17,277.07 302.00,275.00 C302.83,272.93 303.77,271.17 304.60,269.50 C305.43,267.83 306.18,266.37 307.00,265.00 C307.82,263.63 308.50,262.55 309.50,261.30 C310.50,260.05 311.62,258.88 313.00,257.50 C314.38,256.12 316.30,254.33 317.80,253.00 C319.30,251.67 320.63,250.60 322.00,249.50 C323.37,248.40 324.67,247.65 326.00,246.40 C327.33,245.15 328.67,243.37 330.00,242.00 C331.33,240.63 332.67,239.20 334.00,238.20 C335.33,237.20 336.67,236.55 338.00,236.00 C339.33,235.45 340.33,235.28 342.00,234.90 C343.67,234.52 346.05,233.98 348.00,233.70 C349.95,233.42 352.75,233.28 353.70,233.20" fill="none" stroke="#ff3030" stroke-width="1.0"/>
<path d="M294.50,287.70 C294.83,286.92 295.65,285.48 296.50,283.00 C297.35,280.52 298.68,276.30 299.60,272.80 C300.52,269.30 301.17,265.30 302.00,262.00 C302.83,258.70 303.77,255.67 304.60,253.00 C305.43,250.33 306.18,247.92 307.00,246.00 C307.82,244.08 308.50,242.83 309.50,241.50 C310.50,240.17 311.62,238.97 313.00,238.00 C314.38,237.03 316.30,236.32 317.80,235.70 C319.30,235.08 320.63,234.65 322.00,234.30 C323.37,233.95 324.17,233.78 326.00,233.60 C327.83,233.42 328.38,233.27 333.00,233.20 C337.62,233.13 350.25,233.20 353.70,233.20" fill="none" stroke="#2020ff" stroke-width="1.0"/>
<line x1="284.40" y1="233.20" x2="284.40" y2="287.70" stroke="#7a7a7a" stroke-width="1.3"/>
<line x1="284.40" y1="287.70" x2="353.70" y2="287.70" stroke="#7a7a7a" stroke-width="1.3"/>
<line x1="282.90" y1="233.20" x2="284.40" y2="233.20" stroke="#7a7a7a" stroke-width="0.8"/>
<line x1="282.90" y1="260.45" x2="284.40" y2="260.45" stroke="#7a7a7a" stroke-width="0.8"/>
<line x1="353.70" y1="287.70" x2="353.70" y2="289.20" stroke="#7a7a7a" stroke-width="0.8"/>
<text x="281.80" y="236.40" font-size="9" text-anchor="end" fill="#222" stroke="#222" stroke-width="0.22">1</text>
<text x="281.80" y="265.20" font-size="9" text-anchor="end" fill="#222" stroke="#222" stroke-width="0.22">0.5</text>
<text x="281.80" y="291.00" font-size="9" text-anchor="end" fill="#222" stroke="#222" stroke-width="0.22">0</text>
<text x="283.60" y="296.70" font-size="9" text-anchor="middle" fill="#222" stroke="#222" stroke-width="0.22">0</text>
<text x="350.00" y="296.70" font-size="9" text-anchor="middle" fill="#222" stroke="#222" stroke-width="0.22">0.8</text>
<text x="318.20" y="300.50" font-size="9" text-anchor="middle" fill="#222" stroke="#222" stroke-width="0.22">MI</text>
<text x="324.80" y="282.70" font-size="8.9" text-anchor="middle" fill="#3a3a3a" stroke="#3a3a3a" stroke-width="0.22">Cum. Pr.</text>
<text x="0" y="0" font-size="15.5" font-weight="bold" fill="#1a1a1a" transform="translate(359.2 217.6) scale(1.08 1)">F</text>
<rect x="411.40" y="215.20" width="85.50" height="10.50" fill="#ececec" stroke="none" stroke-width="1"/>
<text x="454.60" y="223.10" font-size="8.9" text-anchor="middle" fill="#222" stroke="#222" stroke-width="0.22">Sig. SE pattern pairs</text>
<line x1="408.85" y1="239.10" x2="408.85" y2="253.30" stroke="#2020ff" stroke-width="0.9"/>
<line x1="408.85" y1="264.70" x2="408.85" y2="277.50" stroke="#2020ff" stroke-width="0.9"/>
<line x1="405.15" y1="239.10" x2="412.55" y2="239.10" stroke="#2020ff" stroke-width="0.9"/>
<line x1="405.15" y1="277.50" x2="412.55" y2="277.50" stroke="#2020ff" stroke-width="0.9"/>
<rect x="401.50" y="253.30" width="14.70" height="11.40" fill="#6a6aff" stroke="#2020ff" stroke-width="0.8"/>
<line x1="401.50" y1="261.50" x2="416.20" y2="261.50" stroke="#2020ff" stroke-width="0.9"/>
<line x1="423.55" y1="241.70" x2="423.55" y2="263.90" stroke="#ff3030" stroke-width="0.9"/>
<line x1="423.55" y1="274.90" x2="423.55" y2="288.20" stroke="#ff3030" stroke-width="0.9"/>
<line x1="421.70" y1="241.70" x2="425.40" y2="241.70" stroke="#ff3030" stroke-width="0.9"/>
<line x1="421.70" y1="288.20" x2="425.40" y2="288.20" stroke="#ff3030" stroke-width="0.9"/>
<rect x="416.20" y="263.90" width="14.70" height="11.00" fill="#ee7a7a" stroke="#ff3030" stroke-width="0.8"/>
<line x1="416.20" y1="267.60" x2="430.90" y2="267.60" stroke="#ff3030" stroke-width="0.9"/>
<circle cx="409.20" cy="231.20" r="1.75" fill="#fff" stroke="#111" stroke-width="0.85"/>
<circle cx="413.40" cy="239.10" r="1.75" fill="#fff" stroke="#111" stroke-width="0.85"/>
<circle cx="409.20" cy="258.40" r="1.75" fill="#fff" stroke="#111" stroke-width="0.85"/>
<circle cx="405.50" cy="262.10" r="1.75" fill="#fff" stroke="#111" stroke-width="0.85"/>
<circle cx="409.50" cy="261.20" r="1.75" fill="#fff" stroke="#111" stroke-width="0.85"/>
<circle cx="412.30" cy="264.30" r="1.75" fill="#fff" stroke="#111" stroke-width="0.85"/>
<circle cx="407.30" cy="263.60" r="1.75" fill="#fff" stroke="#111" stroke-width="0.85"/>
<circle cx="409.70" cy="277.20" r="1.75" fill="#fff" stroke="#111" stroke-width="0.85"/>
<circle cx="424.40" cy="241.30" r="1.75" fill="#fff" stroke="#111" stroke-width="0.85"/>
<circle cx="424.80" cy="263.20" r="1.75" fill="#fff" stroke="#111" stroke-width="0.85"/>
<circle cx="421.80" cy="265.90" r="1.75" fill="#fff" stroke="#111" stroke-width="0.85"/>
<circle cx="424.20" cy="268.00" r="1.75" fill="#fff" stroke="#111" stroke-width="0.85"/>
<circle cx="420.20" cy="273.50" r="1.75" fill="#fff" stroke="#111" stroke-width="0.85"/>
<circle cx="428.50" cy="280.30" r="1.75" fill="#fff" stroke="#111" stroke-width="0.85"/>
<circle cx="423.50" cy="288.20" r="1.75" fill="#fff" stroke="#111" stroke-width="0.85"/>
<line x1="397.60" y1="231.60" x2="397.60" y2="288.20" stroke="#262626" stroke-width="0.9"/>
<line x1="395.80" y1="240.20" x2="397.60" y2="240.20" stroke="#262626" stroke-width="0.8"/>
<line x1="395.80" y1="253.80" x2="397.60" y2="253.80" stroke="#262626" stroke-width="0.8"/>
<line x1="395.80" y1="267.40" x2="397.60" y2="267.40" stroke="#262626" stroke-width="0.8"/>
<line x1="395.80" y1="281.00" x2="397.60" y2="281.00" stroke="#262626" stroke-width="0.8"/>
<line x1="397.60" y1="288.20" x2="434.90" y2="288.20" stroke="#262626" stroke-width="0.9"/>
<text x="395.00" y="243.40" font-size="9.2" text-anchor="end" fill="#222" stroke="#222" stroke-width="0.22">2</text>
<text x="395.00" y="257.00" font-size="9.2" text-anchor="end" fill="#222" stroke="#222" stroke-width="0.22">1.5</text>
<text x="395.00" y="270.60" font-size="9.2" text-anchor="end" fill="#222" stroke="#222" stroke-width="0.22">1</text>
<text x="395.00" y="284.20" font-size="9.2" text-anchor="end" fill="#222" stroke="#222" stroke-width="0.22">0.5</text>
<text x="376.90" y="259.70" font-size="9.6" text-anchor="middle" fill="#222" transform="rotate(-90 376.9 259.7)" stroke="#222" stroke-width="0.22">Skewness</text>
<text x="416.00" y="298.30" font-size="8.8" text-anchor="middle" font-weight="bold" fill="#1a1a1a" stroke="#1a1a1a" stroke-width="0.22">p=0.04</text>
<line x1="484.05" y1="270.40" x2="484.05" y2="276.30" stroke="#2020ff" stroke-width="0.9"/>
<line x1="484.05" y1="285.50" x2="484.05" y2="288.00" stroke="#2020ff" stroke-width="0.9"/>
<line x1="480.30" y1="270.40" x2="487.80" y2="270.40" stroke="#2020ff" stroke-width="0.9"/>
<line x1="480.30" y1="288.00" x2="487.80" y2="288.00" stroke="#2020ff" stroke-width="0.9"/>
<rect x="476.60" y="276.30" width="14.90" height="9.20" fill="#6a6aff" stroke="#2020ff" stroke-width="0.8"/>
<line x1="476.60" y1="281.30" x2="491.50" y2="281.30" stroke="#2020ff" stroke-width="0.9"/>
<line x1="498.50" y1="277.70" x2="498.50" y2="263.80" stroke="#ff3030" stroke-width="0.9"/>
<line x1="498.50" y1="277.70" x2="498.50" y2="286.70" stroke="#ff3030" stroke-width="0.9"/>
<line x1="495.00" y1="277.70" x2="502.00" y2="277.70" stroke="#ff3030" stroke-width="0.9"/>
<line x1="495.00" y1="286.70" x2="502.00" y2="286.70" stroke="#ff3030" stroke-width="0.9"/>
<rect x="491.50" y="263.80" width="14.00" height="13.90" fill="#ee7a7a" stroke="#ff3030" stroke-width="0.8"/>
<line x1="491.50" y1="276.60" x2="505.50" y2="276.60" stroke="#ff3030" stroke-width="0.9"/>
<line x1="497.60" y1="231.40" x2="501.60" y2="231.40" stroke="#ff3030" stroke-width="0.9"/>
<line x1="499.60" y1="229.40" x2="499.60" y2="233.40" stroke="#ff3030" stroke-width="0.9"/>
<line x1="497.30" y1="240.40" x2="501.30" y2="240.40" stroke="#ff3030" stroke-width="0.9"/>
<line x1="499.30" y1="238.40" x2="499.30" y2="242.40" stroke="#ff3030" stroke-width="0.9"/>
<circle cx="484.80" cy="270.50" r="1.75" fill="#fff" stroke="#111" stroke-width="0.85"/>
<circle cx="487.80" cy="274.80" r="1.75" fill="#fff" stroke="#111" stroke-width="0.85"/>
<circle cx="485.50" cy="278.60" r="1.75" fill="#fff" stroke="#111" stroke-width="0.85"/>
<circle cx="485.20" cy="284.30" r="1.75" fill="#fff" stroke="#111" stroke-width="0.85"/>
<circle cx="482.00" cy="286.50" r="1.75" fill="#fff" stroke="#111" stroke-width="0.85"/>
<circle cx="480.00" cy="288.00" r="1.75" fill="#fff" stroke="#111" stroke-width="0.85"/>
<circle cx="497.00" cy="231.40" r="1.75" fill="#fff" stroke="#111" stroke-width="0.85"/>
<circle cx="495.60" cy="240.40" r="1.75" fill="#fff" stroke="#111" stroke-width="0.85"/>
<circle cx="495.40" cy="271.50" r="1.75" fill="#fff" stroke="#111" stroke-width="0.85"/>
<circle cx="496.80" cy="273.90" r="1.75" fill="#fff" stroke="#111" stroke-width="0.85"/>
<circle cx="498.20" cy="275.00" r="1.75" fill="#fff" stroke="#111" stroke-width="0.85"/>
<circle cx="502.30" cy="275.80" r="1.75" fill="#fff" stroke="#111" stroke-width="0.85"/>
<circle cx="500.20" cy="280.80" r="1.75" fill="#fff" stroke="#111" stroke-width="0.85"/>
<circle cx="496.00" cy="286.70" r="1.75" fill="#fff" stroke="#111" stroke-width="0.85"/>
<line x1="472.70" y1="230.60" x2="472.70" y2="288.00" stroke="#808080" stroke-width="1.1"/>
<line x1="471.00" y1="284.90" x2="472.70" y2="284.90" stroke="#808080" stroke-width="0.8"/>
<line x1="471.00" y1="264.00" x2="472.70" y2="264.00" stroke="#808080" stroke-width="0.8"/>
<line x1="471.00" y1="243.10" x2="472.70" y2="243.10" stroke="#808080" stroke-width="0.8"/>
<line x1="472.70" y1="288.00" x2="509.40" y2="288.00" stroke="#262626" stroke-width="0.9"/>
<text x="470.30" y="246.30" font-size="9.2" text-anchor="end" fill="#222" stroke="#222" stroke-width="0.22">0.4</text>
<text x="470.30" y="267.20" font-size="9.2" text-anchor="end" fill="#222" stroke="#222" stroke-width="0.22">0.3</text>
<text x="470.30" y="288.10" font-size="9.2" text-anchor="end" fill="#222" stroke="#222" stroke-width="0.22">0.2</text>
<text x="453.80" y="260.20" font-size="9.8" text-anchor="middle" fill="#222" transform="rotate(-90 453.8 260.2)" stroke="#222" stroke-width="0.22">MI</text>
<text x="491.20" y="298.40" font-size="8.8" text-anchor="middle" font-style="italic" fill="#222" stroke="#222" stroke-width="0.22">p=0.059</text>
<line x1="397.80" y1="310.50" x2="397.80" y2="374.90" stroke="#262626" stroke-width="0.9"/>
<line x1="396.00" y1="374.90" x2="397.80" y2="374.90" stroke="#262626" stroke-width="0.8"/>
<line x1="396.00" y1="364.25" x2="397.80" y2="364.25" stroke="#262626" stroke-width="0.8"/>
<line x1="396.00" y1="353.60" x2="397.80" y2="353.60" stroke="#262626" stroke-width="0.8"/>
<line x1="396.00" y1="342.95" x2="397.80" y2="342.95" stroke="#262626" stroke-width="0.8"/>
<line x1="396.00" y1="332.30" x2="397.80" y2="332.30" stroke="#262626" stroke-width="0.8"/>
<line x1="396.00" y1="321.65" x2="397.80" y2="321.65" stroke="#262626" stroke-width="0.8"/>
<line x1="396.00" y1="311.00" x2="397.80" y2="311.00" stroke="#262626" stroke-width="0.8"/>
<line x1="397.80" y1="374.90" x2="510.60" y2="374.90" stroke="#262626" stroke-width="0.9"/>
<line x1="408.80" y1="374.90" x2="408.80" y2="376.70" stroke="#262626" stroke-width="0.8"/>
<line x1="454.30" y1="374.90" x2="454.30" y2="376.70" stroke="#262626" stroke-width="0.8"/>
<line x1="500.10" y1="374.90" x2="500.10" y2="376.70" stroke="#262626" stroke-width="0.8"/>
<text x="394.80" y="314.20" font-size="9.2" text-anchor="end" fill="#222" stroke="#222" stroke-width="0.22">0.32</text>
<text x="394.80" y="335.50" font-size="9.2" text-anchor="end" fill="#222" stroke="#222" stroke-width="0.22">0.28</text>
<text x="394.80" y="356.80" font-size="9.2" text-anchor="end" fill="#222" stroke="#222" stroke-width="0.22">0.24</text>
<text x="394.80" y="378.10" font-size="9.2" text-anchor="end" fill="#222" stroke="#222" stroke-width="0.22">0.20</text>
<path d="M408.80,330.70 L454.30,328.90 L500.10,327.40" fill="none" stroke="#d95319" stroke-width="0.9"/>
<line x1="408.80" y1="315.30" x2="408.80" y2="346.00" stroke="#d95319" stroke-width="1.25" stroke-opacity="0.78"/>
<line x1="454.30" y1="314.20" x2="454.30" y2="344.90" stroke="#d95319" stroke-width="1.25" stroke-opacity="0.78"/>
<line x1="500.10" y1="312.00" x2="500.10" y2="342.70" stroke="#d95319" stroke-width="1.25" stroke-opacity="0.78"/>
<rect x="407.40" y="329.30" width="2.80" height="2.80" fill="#d95319" stroke="none" stroke-width="1"/>
<rect x="452.90" y="327.50" width="2.80" height="2.80" fill="#d95319" stroke="none" stroke-width="1"/>
<rect x="498.70" y="326.00" width="2.80" height="2.80" fill="#d95319" stroke="none" stroke-width="1"/>
<path d="M408.80,365.00 L454.30,361.70 L500.10,358.00" fill="none" stroke="#2b7dcf" stroke-width="0.9"/>
<line x1="408.80" y1="360.20" x2="408.80" y2="370.00" stroke="#2b7dcf" stroke-width="1.25" stroke-opacity="0.78"/>
<line x1="454.30" y1="357.40" x2="454.30" y2="366.30" stroke="#2b7dcf" stroke-width="1.25" stroke-opacity="0.78"/>
<line x1="500.10" y1="353.60" x2="500.10" y2="362.40" stroke="#2b7dcf" stroke-width="1.25" stroke-opacity="0.78"/>
<rect x="407.40" y="363.60" width="2.80" height="2.80" fill="#2b7dcf" stroke="none" stroke-width="1"/>
<rect x="452.90" y="360.30" width="2.80" height="2.80" fill="#2b7dcf" stroke="none" stroke-width="1"/>
<rect x="498.70" y="356.60" width="2.80" height="2.80" fill="#2b7dcf" stroke="none" stroke-width="1"/>
<text x="429.60" y="351.50" font-size="8.9" text-anchor="middle" font-weight="bold" fill="#1a1a1a" stroke="#1a1a1a" stroke-width="0.22">p=0.021</text>
<text x="374.80" y="344.90" font-size="9.8" text-anchor="middle" fill="#222" transform="rotate(-90 374.8 344.9)" stroke="#222" stroke-width="0.22">MI</text>
<text x="408.80" y="385.40" font-size="9.5" text-anchor="middle" fill="#222" stroke="#222" stroke-width="0.22">Q1</text>
<text x="454.30" y="385.40" font-size="9.5" text-anchor="middle" fill="#222" stroke="#222" stroke-width="0.22">Q2</text>
<text x="500.10" y="385.40" font-size="9.5" text-anchor="middle" fill="#222" stroke="#222" stroke-width="0.22">Q3</text>
<text x="453.80" y="396.30" font-size="9.75" text-anchor="middle" fill="#222" stroke="#222" stroke-width="0.22">SE-detection thr. [quartile]</text>
<text x="0" y="0" font-size="15.5" font-weight="bold" fill="#1a1a1a" transform="translate(516.0 217.0) scale(1.08 1)">G</text>
<rect x="560.80" y="214.70" width="99.20" height="10.70" fill="#ececec" stroke="none" stroke-width="1"/>
<text x="610.40" y="223.30" font-size="8.7" text-anchor="middle" fill="#222" stroke="#222" stroke-width="0.22">Sig. binned pattern pairs</text>
<path d="M539.40,373.20 L543.00,372.88 L545.50,370.32 L546.50,364.26 L547.20,359.20 L548.60,367.01 L550.00,344.68 L551.50,366.11 L552.50,355.55 L553.60,344.74 L555.00,365.37 L556.20,349.89 L557.20,330.47 L558.60,312.26 L559.30,285.12 L560.60,299.06 L561.50,290.77 L562.70,273.47 L564.00,282.20 L564.80,259.15 L565.40,255.74 L566.50,265.52 L567.50,274.27 L569.00,281.98 L570.30,285.19 L571.50,290.54 L573.10,302.73 L575.00,310.99 L577.90,321.05 L580.00,329.26 L582.80,331.72 L585.00,337.56 L587.60,339.42 L590.00,340.83 L592.50,345.24 L595.00,342.39 L597.30,346.25 L600.00,348.41 L602.20,352.13 L604.50,354.73 L607.00,360.20 L610.00,359.94 L613.50,363.98 L617.00,367.83 L621.50,371.38 L625.00,370.83 L629.60,371.19 L637.70,372.48 L650.00,372.90 L660.00,373.00 L680.00,373.20 L680.00,373.80 L660.00,373.80 L650.00,373.80 L637.70,373.72 L629.60,372.70 L625.00,372.85 L621.50,373.80 L617.00,372.29 L613.50,370.38 L610.00,368.75 L607.00,371.27 L604.50,367.61 L602.20,366.47 L600.00,363.80 L597.30,362.36 L595.00,358.54 L592.50,360.82 L590.00,355.28 L587.60,352.40 L585.00,348.76 L582.80,341.52 L580.00,338.07 L577.90,330.28 L575.00,323.46 L573.10,319.27 L571.50,311.46 L570.30,309.61 L569.00,310.02 L567.50,305.73 L566.50,298.48 L565.40,289.46 L564.80,292.85 L564.00,315.40 L562.70,304.73 L561.50,319.23 L560.60,324.94 L559.30,306.88 L558.60,331.74 L557.20,345.53 L556.20,362.11 L555.00,373.80 L553.60,351.26 L552.50,360.45 L551.50,369.89 L550.00,347.32 L548.60,368.99 L547.20,360.80 L546.50,365.74 L545.50,371.68 L543.00,373.80 L539.40,373.80 Z" fill="#f0a8a8" stroke="none" stroke-width="1" fill-opacity="0.72"/>
<path d="M539.40,373.20 L543.00,373.00 L545.50,371.40 L546.50,363.40 L547.20,355.40 L548.60,366.40 L550.00,335.40 L551.50,365.39 L552.50,351.37 L553.60,333.30 L555.00,368.06 L556.20,348.58 L557.20,326.88 L558.60,308.32 L559.30,257.62 L560.60,275.66 L561.60,260.10 L562.70,246.18 L564.00,256.10 L565.40,233.54 L566.50,244.83 L567.50,254.19 L568.80,265.50 L570.00,278.17 L571.30,289.43 L572.70,300.40 L574.30,311.17 L576.00,321.96 L578.20,337.00 L580.80,345.83 L583.00,350.72 L585.50,355.45 L588.00,359.87 L590.20,363.28 L596.00,368.59 L602.00,371.36 L610.00,373.00 L680.00,373.30 L680.00,373.80 L610.00,373.80 L602.00,372.64 L596.00,370.41 L590.20,366.72 L588.00,364.13 L585.50,360.55 L583.00,356.28 L580.80,351.37 L578.20,342.00 L576.00,326.24 L574.30,314.83 L572.70,303.60 L571.30,292.57 L570.00,281.83 L568.80,270.50 L567.50,261.81 L566.50,255.17 L565.40,247.06 L564.00,272.70 L562.70,263.42 L561.60,275.90 L560.60,288.94 L559.30,266.98 L558.60,315.68 L557.20,331.12 L556.20,351.42 L555.00,369.94 L553.60,334.70 L552.50,352.63 L551.50,366.61 L550.00,336.60 L548.60,367.60 L547.20,356.60 L546.50,364.60 L545.50,372.60 L543.00,373.80 L539.40,373.80 Z" fill="#9c9cff" stroke="none" stroke-width="1" fill-opacity="0.62"/>
<path d="M539.40,373.80 L543.00,373.60 L545.50,372.00 L546.50,364.00 L547.20,356.00 L548.60,367.00 L550.00,336.00 L551.50,366.00 L552.50,352.00 L553.60,334.00 L555.00,369.00 L556.20,350.00 L557.20,329.00 L558.60,312.00 L559.30,262.30 L560.60,282.30 L561.60,268.00 L562.70,254.80 L564.00,264.40 L565.40,240.30 L566.50,250.00 L567.50,258.00 L568.80,268.00 L570.00,280.00 L571.30,291.00 L572.70,302.00 L574.30,313.00 L576.00,324.10 L578.20,339.50 L580.80,348.60 L583.00,353.50 L585.50,358.00 L588.00,362.00 L590.20,365.00 L596.00,369.50 L602.00,372.00 L610.00,373.60 L680.00,373.90" fill="none" stroke="#2020ff" stroke-width="0.9"/>
<path d="M539.40,373.80 L543.00,373.50 L545.50,371.00 L546.50,365.00 L547.20,360.00 L548.60,368.00 L550.00,346.00 L551.50,368.00 L552.50,358.00 L553.60,348.00 L555.00,370.00 L556.20,356.00 L557.20,338.00 L558.60,322.00 L559.30,296.00 L560.60,312.00 L561.50,305.00 L562.70,289.10 L564.00,298.80 L564.80,276.00 L565.40,272.60 L566.50,282.00 L567.50,290.00 L569.00,296.00 L570.30,297.40 L571.50,301.00 L573.10,311.00 L575.00,317.22 L577.90,325.66 L580.00,333.66 L582.80,336.62 L585.00,343.16 L587.60,345.91 L590.00,348.06 L592.50,353.03 L595.00,350.46 L597.30,354.31 L600.00,356.11 L602.20,359.30 L604.50,361.17 L607.00,365.74 L610.00,364.34 L613.50,367.18 L617.00,370.06 L621.50,372.77 L625.00,371.84 L629.60,371.95 L637.70,373.10 L650.00,373.50 L660.00,373.60 L680.00,373.80" fill="none" stroke="#ff3030" stroke-width="0.8"/>
<line x1="539.40" y1="233.90" x2="539.40" y2="373.90" stroke="#8a8a8a" stroke-width="1.5"/>
<line x1="537.90" y1="373.90" x2="539.40" y2="373.90" stroke="#7a7a7a" stroke-width="0.8"/>
<line x1="537.90" y1="350.60" x2="539.40" y2="350.60" stroke="#7a7a7a" stroke-width="0.8"/>
<line x1="537.90" y1="327.30" x2="539.40" y2="327.30" stroke="#7a7a7a" stroke-width="0.8"/>
<line x1="537.90" y1="304.00" x2="539.40" y2="304.00" stroke="#7a7a7a" stroke-width="0.8"/>
<line x1="537.90" y1="280.70" x2="539.40" y2="280.70" stroke="#7a7a7a" stroke-width="0.8"/>
<line x1="537.90" y1="257.40" x2="539.40" y2="257.40" stroke="#7a7a7a" stroke-width="0.8"/>
<line x1="537.90" y1="234.10" x2="539.40" y2="234.10" stroke="#7a7a7a" stroke-width="0.8"/>
<line x1="539.40" y1="373.90" x2="680.40" y2="373.90" stroke="#262626" stroke-width="0.9"/>
<line x1="575.80" y1="373.90" x2="575.80" y2="375.70" stroke="#262626" stroke-width="0.8"/>
<line x1="616.10" y1="373.90" x2="616.10" y2="375.70" stroke="#262626" stroke-width="0.8"/>
<line x1="656.40" y1="373.90" x2="656.40" y2="375.70" stroke="#262626" stroke-width="0.8"/>
<text x="536.50" y="237.20" font-size="9" text-anchor="end" fill="#222" stroke="#222" stroke-width="0.22">6</text>
<text x="536.50" y="376.80" font-size="9" text-anchor="end" fill="#222" stroke="#222" stroke-width="0.22">0</text>
<text x="541.20" y="237.00" font-size="9.3" fill="#222" stroke="#222" stroke-width="0.22">×10<tspan font-size="7" dy="-3.6">-4</tspan></text>
<text x="575.80" y="384.70" font-size="9" text-anchor="middle" fill="#222" stroke="#222" stroke-width="0.22">0.2</text>
<text x="616.10" y="384.70" font-size="9" text-anchor="middle" fill="#222" stroke="#222" stroke-width="0.22">0.4</text>
<text x="656.40" y="384.70" font-size="9" text-anchor="middle" fill="#222" stroke="#222" stroke-width="0.22">0.6</text>
<text x="609.40" y="396.30" font-size="9.7" text-anchor="middle" fill="#222" stroke="#222" stroke-width="0.22">MI: matching index</text>
<text x="530.80" y="304.20" font-size="9.8" text-anchor="middle" fill="#222" transform="rotate(-90 530.8 304.2)" stroke="#222" stroke-width="0.22">Probability</text>
<text x="641.00" y="330.30" font-size="8.9" fill="#2020ff" stroke="#2020ff" stroke-width="0.22">Ctrl-Ab</text>
<text x="641.00" y="341.00" font-size="8.9" fill="#ff3030" stroke="#ff3030" stroke-width="0.22">GluN1-Ab</text>
<line x1="655.25" y1="278.40" x2="655.25" y2="281.40" stroke="#2020ff" stroke-width="0.9"/>
<line x1="655.25" y1="284.60" x2="655.25" y2="288.00" stroke="#2020ff" stroke-width="0.9"/>
<line x1="651.25" y1="278.40" x2="659.25" y2="278.40" stroke="#2020ff" stroke-width="0.9"/>
<line x1="651.25" y1="288.00" x2="659.25" y2="288.00" stroke="#2020ff" stroke-width="0.9"/>
<rect x="647.70" y="281.40" width="15.10" height="3.20" fill="#6a6aff" stroke="#2020ff" stroke-width="0.8"/>
<line x1="647.70" y1="283.50" x2="662.80" y2="283.50" stroke="#2020ff" stroke-width="0.9"/>
<line x1="669.20" y1="259.60" x2="669.20" y2="267.30" stroke="#ff3030" stroke-width="0.9"/>
<line x1="669.20" y1="281.40" x2="669.20" y2="288.30" stroke="#ff3030" stroke-width="0.9"/>
<line x1="666.70" y1="259.60" x2="671.70" y2="259.60" stroke="#ff3030" stroke-width="0.9"/>
<line x1="666.70" y1="288.30" x2="671.70" y2="288.30" stroke="#ff3030" stroke-width="0.9"/>
<rect x="662.00" y="267.30" width="14.40" height="14.10" fill="#ee7a7a" stroke="#ff3030" stroke-width="0.8"/>
<line x1="662.00" y1="280.20" x2="676.40" y2="280.20" stroke="#ff3030" stroke-width="0.9"/>
<line x1="667.00" y1="231.00" x2="671.00" y2="231.00" stroke="#ff3030" stroke-width="0.9"/>
<line x1="669.00" y1="229.00" x2="669.00" y2="233.00" stroke="#ff3030" stroke-width="0.9"/>
<circle cx="655.40" cy="273.70" r="1.75" fill="#fff" stroke="#111" stroke-width="0.85"/>
<circle cx="655.40" cy="278.60" r="1.75" fill="#fff" stroke="#111" stroke-width="0.85"/>
<circle cx="651.60" cy="283.10" r="1.75" fill="#fff" stroke="#111" stroke-width="0.85"/>
<circle cx="657.60" cy="282.30" r="1.75" fill="#fff" stroke="#111" stroke-width="0.85"/>
<circle cx="659.00" cy="284.60" r="1.75" fill="#fff" stroke="#111" stroke-width="0.85"/>
<circle cx="654.60" cy="286.50" r="1.75" fill="#fff" stroke="#111" stroke-width="0.85"/>
<circle cx="654.00" cy="288.10" r="1.75" fill="#fff" stroke="#111" stroke-width="0.85"/>
<circle cx="667.60" cy="231.00" r="1.75" fill="#fff" stroke="#111" stroke-width="0.85"/>
<circle cx="670.30" cy="259.60" r="1.75" fill="#fff" stroke="#111" stroke-width="0.85"/>
<circle cx="669.10" cy="269.30" r="1.75" fill="#fff" stroke="#111" stroke-width="0.85"/>
<circle cx="669.30" cy="273.70" r="1.75" fill="#fff" stroke="#111" stroke-width="0.85"/>
<circle cx="666.20" cy="279.00" r="1.75" fill="#fff" stroke="#111" stroke-width="0.85"/>
<circle cx="670.80" cy="281.80" r="1.75" fill="#fff" stroke="#111" stroke-width="0.85"/>
<circle cx="668.80" cy="282.90" r="1.75" fill="#fff" stroke="#111" stroke-width="0.85"/>
<circle cx="671.20" cy="288.20" r="1.75" fill="#fff" stroke="#111" stroke-width="0.85"/>
<line x1="643.80" y1="230.50" x2="643.80" y2="287.80" stroke="#808080" stroke-width="1.1"/>
<line x1="642.20" y1="287.80" x2="643.80" y2="287.80" stroke="#808080" stroke-width="0.8"/>
<line x1="642.20" y1="273.70" x2="643.80" y2="273.70" stroke="#808080" stroke-width="0.8"/>
<line x1="642.20" y1="259.60" x2="643.80" y2="259.60" stroke="#808080" stroke-width="0.8"/>
<line x1="642.20" y1="245.50" x2="643.80" y2="245.50" stroke="#808080" stroke-width="0.8"/>
<line x1="642.20" y1="231.40" x2="643.80" y2="231.40" stroke="#808080" stroke-width="0.8"/>
<line x1="643.80" y1="287.80" x2="680.80" y2="287.80" stroke="#262626" stroke-width="0.9"/>
<text x="640.20" y="234.60" font-size="9.2" text-anchor="end" fill="#222" stroke="#222" stroke-width="0.22">0.35</text>
<text x="640.20" y="248.70" font-size="9.2" text-anchor="end" fill="#222" stroke="#222" stroke-width="0.22">0.3</text>
<text x="640.20" y="262.80" font-size="9.2" text-anchor="end" fill="#222" stroke="#222" stroke-width="0.22">0.25</text>
<text x="640.20" y="276.90" font-size="9.2" text-anchor="end" fill="#222" stroke="#222" stroke-width="0.22">0.2</text>
<text x="640.20" y="291.00" font-size="9.2" text-anchor="end" fill="#222" stroke="#222" stroke-width="0.22">0.15</text>
<text x="617.90" y="259.30" font-size="9.8" text-anchor="middle" fill="#222" transform="rotate(-90 617.9 259.3)" stroke="#222" stroke-width="0.22">MI</text>
<text x="662.00" y="300.60" font-size="8.7" text-anchor="middle" font-weight="bold" fill="#1a1a1a" stroke="#1a1a1a" stroke-width="0.22">p=0.037</text>
<text x="0" y="0" font-size="15.5" font-weight="bold" fill="#1a1a1a" transform="translate(0.2 425.5) scale(1.08 1)">H</text>
<rect x="38.70" y="422.30" width="101.00" height="10.60" fill="#ececec" stroke="none" stroke-width="1"/>
<text x="89.20" y="430.80" font-size="8.8" text-anchor="middle" fill="#222" stroke="#222" stroke-width="0.22">Sig. binned pattern pairs</text>
<line x1="28.10" y1="432.30" x2="28.10" y2="517.00" stroke="#262626" stroke-width="0.9"/>
<line x1="26.30" y1="432.30" x2="28.10" y2="432.30" stroke="#262626" stroke-width="0.8"/>
<line x1="26.30" y1="474.60" x2="28.10" y2="474.60" stroke="#262626" stroke-width="0.8"/>
<line x1="26.30" y1="517.00" x2="28.10" y2="517.00" stroke="#262626" stroke-width="0.8"/>
<line x1="28.10" y1="517.00" x2="151.80" y2="517.00" stroke="#262626" stroke-width="0.9"/>
<line x1="52.30" y1="517.00" x2="52.30" y2="518.80" stroke="#262626" stroke-width="0.8"/>
<line x1="77.10" y1="517.00" x2="77.10" y2="518.80" stroke="#262626" stroke-width="0.8"/>
<line x1="101.90" y1="517.00" x2="101.90" y2="518.80" stroke="#262626" stroke-width="0.8"/>
<line x1="126.40" y1="517.00" x2="126.40" y2="518.80" stroke="#262626" stroke-width="0.8"/>
<line x1="151.20" y1="517.00" x2="151.20" y2="518.80" stroke="#262626" stroke-width="0.8"/>
<text x="25.60" y="435.60" font-size="9.2" text-anchor="end" fill="#222" stroke="#222" stroke-width="0.22">0.4</text>
<text x="25.80" y="520.30" font-size="9.2" text-anchor="end" fill="#222" stroke="#222" stroke-width="0.22">0.15</text>
<path d="M52.30,498.00 L77.10,488.90 L101.90,477.40 L126.40,464.70 L151.20,453.50" fill="none" stroke="#d95319" stroke-width="0.9"/>
<line x1="52.30" y1="491.30" x2="52.30" y2="504.00" stroke="#d95319" stroke-width="1.25" stroke-opacity="0.78"/>
<line x1="77.10" y1="482.80" x2="77.10" y2="494.30" stroke="#d95319" stroke-width="1.25" stroke-opacity="0.78"/>
<line x1="101.90" y1="470.70" x2="101.90" y2="482.80" stroke="#d95319" stroke-width="1.25" stroke-opacity="0.78"/>
<line x1="126.40" y1="458.00" x2="126.40" y2="471.30" stroke="#d95319" stroke-width="1.25" stroke-opacity="0.78"/>
<line x1="151.20" y1="447.20" x2="151.20" y2="461.10" stroke="#d95319" stroke-width="1.25" stroke-opacity="0.78"/>
<rect x="50.90" y="496.60" width="2.80" height="2.80" fill="#d95319" stroke="none" stroke-width="1"/>
<rect x="75.70" y="487.50" width="2.80" height="2.80" fill="#d95319" stroke="none" stroke-width="1"/>
<rect x="100.50" y="476.00" width="2.80" height="2.80" fill="#d95319" stroke="none" stroke-width="1"/>
<rect x="125.00" y="463.30" width="2.80" height="2.80" fill="#d95319" stroke="none" stroke-width="1"/>
<rect x="149.80" y="452.10" width="2.80" height="2.80" fill="#d95319" stroke="none" stroke-width="1"/>
<path d="M52.30,511.00 L77.10,495.50 L101.90,479.80 L126.40,465.30 L151.20,452.00" fill="none" stroke="#2b7dcf" stroke-width="0.9"/>
<line x1="52.30" y1="510.20" x2="52.30" y2="511.80" stroke="#2b7dcf" stroke-width="1.25" stroke-opacity="0.78"/>
<line x1="77.10" y1="494.70" x2="77.10" y2="496.30" stroke="#2b7dcf" stroke-width="1.25" stroke-opacity="0.78"/>
<line x1="101.90" y1="479.00" x2="101.90" y2="480.60" stroke="#2b7dcf" stroke-width="1.25" stroke-opacity="0.78"/>
<line x1="126.40" y1="464.50" x2="126.40" y2="466.10" stroke="#2b7dcf" stroke-width="1.25" stroke-opacity="0.78"/>
<line x1="151.20" y1="449.50" x2="151.20" y2="454.50" stroke="#2b7dcf" stroke-width="1.25" stroke-opacity="0.78"/>
<rect x="50.90" y="509.60" width="2.80" height="2.80" fill="#2b7dcf" stroke="none" stroke-width="1"/>
<rect x="75.70" y="494.10" width="2.80" height="2.80" fill="#2b7dcf" stroke="none" stroke-width="1"/>
<rect x="100.50" y="478.40" width="2.80" height="2.80" fill="#2b7dcf" stroke="none" stroke-width="1"/>
<rect x="125.00" y="463.90" width="2.80" height="2.80" fill="#2b7dcf" stroke="none" stroke-width="1"/>
<rect x="149.80" y="450.60" width="2.80" height="2.80" fill="#2b7dcf" stroke="none" stroke-width="1"/>
<text x="52.90" y="489.60" font-size="17" text-anchor="middle" font-weight="bold" fill="#222" stroke="#222" stroke-width="0.22">*</text>
<text x="135.00" y="510.00" font-size="9" text-anchor="middle" font-style="italic" fill="#222" stroke="#222" stroke-width="0.22">p=0.30</text>
<text x="52.30" y="529.20" font-size="9.7" text-anchor="middle" fill="#222" stroke="#222" stroke-width="0.22">1</text>
<text x="77.10" y="529.20" font-size="9.7" text-anchor="middle" fill="#222" stroke="#222" stroke-width="0.22">2</text>
<text x="101.90" y="529.20" font-size="9.7" text-anchor="middle" fill="#222" stroke="#222" stroke-width="0.22">3</text>
<text x="126.40" y="529.20" font-size="9.7" text-anchor="middle" fill="#222" stroke="#222" stroke-width="0.22">4</text>
<text x="151.20" y="529.20" font-size="9.7" text-anchor="middle" fill="#222" stroke="#222" stroke-width="0.22">5</text>
<text x="89.50" y="540.90" font-size="9.8" text-anchor="middle" fill="#222" stroke="#222" stroke-width="0.22">Binning window (s)</text>
<text x="10.80" y="474.50" font-size="9.8" text-anchor="middle" fill="#222" transform="rotate(-90 10.8 474.5)" stroke="#222" stroke-width="0.22">Matching Index</text>
<text x="0" y="0" font-size="15.5" font-weight="bold" fill="#1a1a1a" transform="translate(166.4 425.5) scale(1.08 1)">I</text>
<rect x="221.30" y="423.60" width="62.50" height="9.60" fill="#ececec" stroke="none" stroke-width="1"/>
<text x="252.50" y="431.30" font-size="8.8" text-anchor="middle" fill="#222" stroke="#222" stroke-width="0.22">Ensemble PNs</text>
<line x1="193.40" y1="432.10" x2="193.40" y2="517.40" stroke="#262626" stroke-width="0.9"/>
<line x1="191.60" y1="432.10" x2="193.40" y2="432.10" stroke="#262626" stroke-width="0.8"/>
<line x1="191.60" y1="474.40" x2="193.40" y2="474.40" stroke="#262626" stroke-width="0.8"/>
<line x1="191.60" y1="517.40" x2="193.40" y2="517.40" stroke="#262626" stroke-width="0.8"/>
<line x1="193.40" y1="517.40" x2="317.30" y2="517.40" stroke="#262626" stroke-width="0.9"/>
<line x1="211.30" y1="517.40" x2="211.30" y2="519.20" stroke="#262626" stroke-width="0.8"/>
<line x1="229.00" y1="517.40" x2="229.00" y2="519.20" stroke="#262626" stroke-width="0.8"/>
<line x1="246.60" y1="517.40" x2="246.60" y2="519.20" stroke="#262626" stroke-width="0.8"/>
<line x1="264.00" y1="517.40" x2="264.00" y2="519.20" stroke="#262626" stroke-width="0.8"/>
<line x1="281.60" y1="517.40" x2="281.60" y2="519.20" stroke="#262626" stroke-width="0.8"/>
<line x1="299.20" y1="517.40" x2="299.20" y2="519.20" stroke="#262626" stroke-width="0.8"/>
<line x1="317.10" y1="517.40" x2="317.10" y2="519.20" stroke="#262626" stroke-width="0.8"/>
<text x="190.80" y="435.40" font-size="9.2" text-anchor="end" fill="#222" stroke="#222" stroke-width="0.22">0.15</text>
<text x="190.80" y="520.70" font-size="9.2" text-anchor="end" fill="#222" stroke="#222" stroke-width="0.22">0.05</text>
<path d="M211.30,457.70 L229.00,466.20 L246.60,452.60 L264.00,451.10 L281.60,466.20 L299.20,471.90 L317.10,471.90" fill="none" stroke="#d95319" stroke-width="0.9"/>
<line x1="211.30" y1="449.70" x2="211.30" y2="465.30" stroke="#d95319" stroke-width="1.25" stroke-opacity="0.78"/>
<line x1="229.00" y1="459.40" x2="229.00" y2="473.00" stroke="#d95319" stroke-width="1.25" stroke-opacity="0.78"/>
<line x1="246.60" y1="438.90" x2="246.60" y2="467.30" stroke="#d95319" stroke-width="1.25" stroke-opacity="0.78"/>
<line x1="264.00" y1="445.40" x2="264.00" y2="461.10" stroke="#d95319" stroke-width="1.25" stroke-opacity="0.78"/>
<line x1="281.60" y1="454.80" x2="281.60" y2="477.60" stroke="#d95319" stroke-width="1.25" stroke-opacity="0.78"/>
<line x1="299.20" y1="464.00" x2="299.20" y2="480.00" stroke="#d95319" stroke-width="1.25" stroke-opacity="0.78"/>
<line x1="317.10" y1="464.00" x2="317.10" y2="481.00" stroke="#d95319" stroke-width="1.25" stroke-opacity="0.78"/>
<rect x="209.90" y="456.30" width="2.80" height="2.80" fill="#d95319" stroke="none" stroke-width="1"/>
<rect x="227.60" y="464.80" width="2.80" height="2.80" fill="#d95319" stroke="none" stroke-width="1"/>
<rect x="245.20" y="451.20" width="2.80" height="2.80" fill="#d95319" stroke="none" stroke-width="1"/>
<rect x="262.60" y="449.70" width="2.80" height="2.80" fill="#d95319" stroke="none" stroke-width="1"/>
<rect x="280.20" y="464.80" width="2.80" height="2.80" fill="#d95319" stroke="none" stroke-width="1"/>
<rect x="297.80" y="470.50" width="2.80" height="2.80" fill="#d95319" stroke="none" stroke-width="1"/>
<rect x="315.70" y="470.50" width="2.80" height="2.80" fill="#d95319" stroke="none" stroke-width="1"/>
<path d="M246.60,474.20 L264.00,487.20 L281.60,483.30 L299.20,475.30 L317.10,467.30" fill="none" stroke="#2b7dcf" stroke-width="0.9"/>
<line x1="246.60" y1="467.30" x2="246.60" y2="485.30" stroke="#2b7dcf" stroke-width="1.25" stroke-opacity="0.78"/>
<line x1="264.00" y1="484.50" x2="264.00" y2="489.90" stroke="#2b7dcf" stroke-width="1.25" stroke-opacity="0.78"/>
<line x1="281.60" y1="476.00" x2="281.60" y2="491.00" stroke="#2b7dcf" stroke-width="1.25" stroke-opacity="0.78"/>
<line x1="299.20" y1="470.00" x2="299.20" y2="484.00" stroke="#2b7dcf" stroke-width="1.25" stroke-opacity="0.78"/>
<line x1="317.10" y1="459.00" x2="317.10" y2="477.00" stroke="#2b7dcf" stroke-width="1.25" stroke-opacity="0.78"/>
<rect x="245.20" y="472.80" width="2.80" height="2.80" fill="#2b7dcf" stroke="none" stroke-width="1"/>
<rect x="262.60" y="485.80" width="2.80" height="2.80" fill="#2b7dcf" stroke="none" stroke-width="1"/>
<rect x="280.20" y="481.90" width="2.80" height="2.80" fill="#2b7dcf" stroke="none" stroke-width="1"/>
<rect x="297.80" y="473.90" width="2.80" height="2.80" fill="#2b7dcf" stroke="none" stroke-width="1"/>
<rect x="315.70" y="465.90" width="2.80" height="2.80" fill="#2b7dcf" stroke="none" stroke-width="1"/>
<text x="264.00" y="448.40" font-size="17" text-anchor="middle" font-weight="bold" fill="#222" stroke="#222" stroke-width="0.22">*</text>
<text x="307.60" y="509.40" font-size="9" text-anchor="middle" font-style="italic" fill="#222" stroke="#222" stroke-width="0.22">p=0.09</text>
<text x="211.30" y="529.90" font-size="9.5" text-anchor="middle" fill="#222" stroke="#222" stroke-width="0.22">0.2</text>
<text x="229.00" y="529.90" font-size="9.5" text-anchor="middle" fill="#222" stroke="#222" stroke-width="0.22">0.4</text>
<text x="246.60" y="529.90" font-size="9.5" text-anchor="middle" fill="#222" stroke="#222" stroke-width="0.22">0.8</text>
<text x="264.00" y="529.90" font-size="9.5" text-anchor="middle" fill="#222" stroke="#222" stroke-width="0.22">1.2</text>
<text x="281.60" y="529.90" font-size="9.5" text-anchor="middle" fill="#222" stroke="#222" stroke-width="0.22">2.4</text>
<text x="299.20" y="529.90" font-size="9.5" text-anchor="middle" fill="#222" stroke="#222" stroke-width="0.22">4.8</text>
<text x="317.10" y="529.90" font-size="9.5" text-anchor="middle" fill="#222" stroke="#222" stroke-width="0.22">9.6</text>
<text x="255.20" y="540.70" font-size="9.8" text-anchor="middle" fill="#222" stroke="#222" stroke-width="0.22">Tiling window (s)</text>
<text x="182.00" y="476.00" font-size="9.8" text-anchor="middle" fill="#222" transform="rotate(-90 182.0 476.0)" stroke="#222" stroke-width="0.22">STTC</text>
<text x="0" y="0" font-size="15.5" font-weight="bold" fill="#1a1a1a" transform="translate(332.6 425.5) scale(1.08 1)">J</text>
<rect x="408.40" y="422.70" width="63.10" height="10.50" fill="#ececec" stroke="none" stroke-width="1"/>
<text x="440.00" y="431.00" font-size="8.8" text-anchor="middle" fill="#222" stroke="#222" stroke-width="0.22">Ensemble PNs</text>
<line x1="377.60" y1="432.10" x2="377.60" y2="516.80" stroke="#262626" stroke-width="0.9"/>
<line x1="375.80" y1="432.10" x2="377.60" y2="432.10" stroke="#262626" stroke-width="0.8"/>
<line x1="375.80" y1="460.50" x2="377.60" y2="460.50" stroke="#262626" stroke-width="0.8"/>
<line x1="375.80" y1="488.10" x2="377.60" y2="488.10" stroke="#262626" stroke-width="0.8"/>
<line x1="375.80" y1="516.50" x2="377.60" y2="516.50" stroke="#262626" stroke-width="0.8"/>
<line x1="377.60" y1="516.80" x2="502.60" y2="516.80" stroke="#262626" stroke-width="0.9"/>
<line x1="396.10" y1="516.80" x2="396.10" y2="518.60" stroke="#262626" stroke-width="0.8"/>
<line x1="413.80" y1="516.80" x2="413.80" y2="518.60" stroke="#262626" stroke-width="0.8"/>
<line x1="431.70" y1="516.80" x2="431.70" y2="518.60" stroke="#262626" stroke-width="0.8"/>
<line x1="449.30" y1="516.80" x2="449.30" y2="518.60" stroke="#262626" stroke-width="0.8"/>
<line x1="466.90" y1="516.80" x2="466.90" y2="518.60" stroke="#262626" stroke-width="0.8"/>
<line x1="484.60" y1="516.80" x2="484.60" y2="518.60" stroke="#262626" stroke-width="0.8"/>
<line x1="502.50" y1="516.80" x2="502.50" y2="518.60" stroke="#262626" stroke-width="0.8"/>
<text x="375.00" y="435.40" font-size="9.2" text-anchor="end" fill="#222" stroke="#222" stroke-width="0.22">0.2</text>
<text x="375.00" y="463.80" font-size="9.2" text-anchor="end" fill="#222" stroke="#222" stroke-width="0.22">0.15</text>
<text x="375.00" y="491.40" font-size="9.2" text-anchor="end" fill="#222" stroke="#222" stroke-width="0.22">0.1</text>
<text x="375.00" y="519.80" font-size="9.2" text-anchor="end" fill="#222" stroke="#222" stroke-width="0.22">0.05</text>
<path d="M396.10,463.10 L413.80,473.00 L431.70,473.90 L449.30,469.00 L466.90,478.10 L484.60,476.70 L502.50,473.90" fill="none" stroke="#d95319" stroke-width="0.9"/>
<line x1="396.10" y1="449.10" x2="396.10" y2="476.70" stroke="#d95319" stroke-width="1.25" stroke-opacity="0.78"/>
<line x1="413.80" y1="462.40" x2="413.80" y2="481.70" stroke="#d95319" stroke-width="1.25" stroke-opacity="0.78"/>
<line x1="431.70" y1="465.00" x2="431.70" y2="483.00" stroke="#d95319" stroke-width="1.25" stroke-opacity="0.78"/>
<line x1="449.30" y1="463.00" x2="449.30" y2="476.00" stroke="#d95319" stroke-width="1.25" stroke-opacity="0.78"/>
<line x1="466.90" y1="471.00" x2="466.90" y2="486.00" stroke="#d95319" stroke-width="1.25" stroke-opacity="0.78"/>
<line x1="484.60" y1="472.00" x2="484.60" y2="481.00" stroke="#d95319" stroke-width="1.25" stroke-opacity="0.78"/>
<line x1="502.50" y1="469.00" x2="502.50" y2="479.00" stroke="#d95319" stroke-width="1.25" stroke-opacity="0.78"/>
<rect x="394.70" y="461.70" width="2.80" height="2.80" fill="#d95319" stroke="none" stroke-width="1"/>
<rect x="412.40" y="471.60" width="2.80" height="2.80" fill="#d95319" stroke="none" stroke-width="1"/>
<rect x="430.30" y="472.50" width="2.80" height="2.80" fill="#d95319" stroke="none" stroke-width="1"/>
<rect x="447.90" y="467.60" width="2.80" height="2.80" fill="#d95319" stroke="none" stroke-width="1"/>
<rect x="465.50" y="476.70" width="2.80" height="2.80" fill="#d95319" stroke="none" stroke-width="1"/>
<rect x="483.20" y="475.30" width="2.80" height="2.80" fill="#d95319" stroke="none" stroke-width="1"/>
<rect x="501.10" y="472.50" width="2.80" height="2.80" fill="#d95319" stroke="none" stroke-width="1"/>
<path d="M431.70,483.00 L449.30,492.40 L466.90,491.50 L484.60,481.60 L502.50,473.90" fill="none" stroke="#2b7dcf" stroke-width="0.9"/>
<line x1="431.70" y1="475.00" x2="431.70" y2="491.00" stroke="#2b7dcf" stroke-width="1.25" stroke-opacity="0.78"/>
<line x1="449.30" y1="490.40" x2="449.30" y2="494.40" stroke="#2b7dcf" stroke-width="1.25" stroke-opacity="0.78"/>
<line x1="466.90" y1="487.00" x2="466.90" y2="496.00" stroke="#2b7dcf" stroke-width="1.25" stroke-opacity="0.78"/>
<line x1="484.60" y1="477.00" x2="484.60" y2="486.00" stroke="#2b7dcf" stroke-width="1.25" stroke-opacity="0.78"/>
<line x1="502.50" y1="471.50" x2="502.50" y2="476.30" stroke="#2b7dcf" stroke-width="1.25" stroke-opacity="0.78"/>
<rect x="430.30" y="481.60" width="2.80" height="2.80" fill="#2b7dcf" stroke="none" stroke-width="1"/>
<rect x="447.90" y="491.00" width="2.80" height="2.80" fill="#2b7dcf" stroke="none" stroke-width="1"/>
<rect x="465.50" y="490.10" width="2.80" height="2.80" fill="#2b7dcf" stroke="none" stroke-width="1"/>
<rect x="483.20" y="480.20" width="2.80" height="2.80" fill="#2b7dcf" stroke="none" stroke-width="1"/>
<rect x="501.10" y="472.50" width="2.80" height="2.80" fill="#2b7dcf" stroke="none" stroke-width="1"/>
<text x="449.30" y="466.90" font-size="17" text-anchor="middle" font-weight="bold" fill="#222" stroke="#222" stroke-width="0.22">*</text>
<text x="492.40" y="508.80" font-size="9.2" text-anchor="middle" font-style="italic" fill="#222" stroke="#222" stroke-width="0.22">p=0.15</text>
<text x="396.10" y="529.90" font-size="9.5" text-anchor="middle" fill="#222" stroke="#222" stroke-width="0.22">0.2</text>
<text x="413.80" y="529.90" font-size="9.5" text-anchor="middle" fill="#222" stroke="#222" stroke-width="0.22">0.4</text>
<text x="431.70" y="529.90" font-size="9.5" text-anchor="middle" fill="#222" stroke="#222" stroke-width="0.22">0.8</text>
<text x="449.30" y="529.90" font-size="9.5" text-anchor="middle" fill="#222" stroke="#222" stroke-width="0.22">1.2</text>
<text x="466.90" y="529.90" font-size="9.5" text-anchor="middle" fill="#222" stroke="#222" stroke-width="0.22">2.4</text>
<text x="484.60" y="529.90" font-size="9.5" text-anchor="middle" fill="#222" stroke="#222" stroke-width="0.22">4.8</text>
<text x="502.50" y="529.90" font-size="9.5" text-anchor="middle" fill="#222" stroke="#222" stroke-width="0.22">9.6</text>
<text x="439.90" y="540.70" font-size="9.8" text-anchor="middle" fill="#222" stroke="#222" stroke-width="0.22">Tiling window (s)</text>
<text x="352.70" y="475.30" font-size="9.8" text-anchor="middle" fill="#222" transform="rotate(-90 352.7 475.3)" stroke="#222" stroke-width="0.22">Participation index</text>
<text x="0" y="0" font-size="15.5" font-weight="bold" fill="#1a1a1a" transform="translate(515.0 425.6) scale(1.08 1)">K</text>
<rect x="584.00" y="422.70" width="63.20" height="9.90" fill="#ececec" stroke="none" stroke-width="1"/>
<text x="615.60" y="430.60" font-size="8.8" text-anchor="middle" fill="#222" stroke="#222" stroke-width="0.22">Ensemble PNs</text>
<line x1="554.80" y1="432.60" x2="554.80" y2="517.10" stroke="#262626" stroke-width="0.9"/>
<line x1="553.00" y1="432.60" x2="554.80" y2="432.60" stroke="#262626" stroke-width="0.8"/>
<line x1="553.00" y1="460.50" x2="554.80" y2="460.50" stroke="#262626" stroke-width="0.8"/>
<line x1="553.00" y1="489.00" x2="554.80" y2="489.00" stroke="#262626" stroke-width="0.8"/>
<line x1="553.00" y1="517.10" x2="554.80" y2="517.10" stroke="#262626" stroke-width="0.8"/>
<line x1="554.80" y1="517.10" x2="677.40" y2="517.10" stroke="#262626" stroke-width="0.9"/>
<line x1="571.80" y1="517.10" x2="571.80" y2="518.90" stroke="#262626" stroke-width="0.8"/>
<line x1="589.40" y1="517.10" x2="589.40" y2="518.90" stroke="#262626" stroke-width="0.8"/>
<line x1="606.80" y1="517.10" x2="606.80" y2="518.90" stroke="#262626" stroke-width="0.8"/>
<line x1="625.30" y1="517.10" x2="625.30" y2="518.90" stroke="#262626" stroke-width="0.8"/>
<line x1="642.90" y1="517.10" x2="642.90" y2="518.90" stroke="#262626" stroke-width="0.8"/>
<line x1="660.00" y1="517.10" x2="660.00" y2="518.90" stroke="#262626" stroke-width="0.8"/>
<line x1="677.00" y1="517.10" x2="677.00" y2="518.90" stroke="#262626" stroke-width="0.8"/>
<text x="552.20" y="435.90" font-size="9.2" text-anchor="end" fill="#222" stroke="#222" stroke-width="0.22">0.15</text>
<text x="552.20" y="463.80" font-size="9.2" text-anchor="end" fill="#222" stroke="#222" stroke-width="0.22">0.1</text>
<text x="552.20" y="492.30" font-size="9.2" text-anchor="end" fill="#222" stroke="#222" stroke-width="0.22">0.05</text>
<text x="552.20" y="520.40" font-size="9.2" text-anchor="end" fill="#222" stroke="#222" stroke-width="0.22">0</text>
<path d="M571.80,442.00 L589.40,468.20 L606.80,469.60 L625.30,477.30 L642.90,495.20 L660.00,500.90 L677.00,507.10" fill="none" stroke="#d95319" stroke-width="0.9"/>
<line x1="571.80" y1="434.60" x2="571.80" y2="449.70" stroke="#d95319" stroke-width="1.25" stroke-opacity="0.78"/>
<line x1="589.40" y1="461.00" x2="589.40" y2="474.70" stroke="#d95319" stroke-width="1.25" stroke-opacity="0.78"/>
<line x1="606.80" y1="457.70" x2="606.80" y2="481.00" stroke="#d95319" stroke-width="1.25" stroke-opacity="0.78"/>
<line x1="625.30" y1="472.60" x2="625.30" y2="482.00" stroke="#d95319" stroke-width="1.25" stroke-opacity="0.78"/>
<line x1="642.90" y1="492.00" x2="642.90" y2="498.50" stroke="#d95319" stroke-width="1.25" stroke-opacity="0.78"/>
<line x1="660.00" y1="499.00" x2="660.00" y2="502.80" stroke="#d95319" stroke-width="1.25" stroke-opacity="0.78"/>
<line x1="677.00" y1="506.30" x2="677.00" y2="507.90" stroke="#d95319" stroke-width="1.25" stroke-opacity="0.78"/>
<rect x="570.40" y="440.60" width="2.80" height="2.80" fill="#d95319" stroke="none" stroke-width="1"/>
<rect x="588.00" y="466.80" width="2.80" height="2.80" fill="#d95319" stroke="none" stroke-width="1"/>
<rect x="605.40" y="468.20" width="2.80" height="2.80" fill="#d95319" stroke="none" stroke-width="1"/>
<rect x="623.90" y="475.90" width="2.80" height="2.80" fill="#d95319" stroke="none" stroke-width="1"/>
<rect x="641.50" y="493.80" width="2.80" height="2.80" fill="#d95319" stroke="none" stroke-width="1"/>
<rect x="658.60" y="499.50" width="2.80" height="2.80" fill="#d95319" stroke="none" stroke-width="1"/>
<rect x="675.60" y="505.70" width="2.80" height="2.80" fill="#d95319" stroke="none" stroke-width="1"/>
<path d="M606.80,481.00 L625.30,493.80 L642.90,498.00 L660.00,502.30 L677.00,507.10" fill="none" stroke="#2b7dcf" stroke-width="0.9"/>
<line x1="606.80" y1="471.90" x2="606.80" y2="492.40" stroke="#2b7dcf" stroke-width="1.25" stroke-opacity="0.78"/>
<line x1="625.30" y1="492.30" x2="625.30" y2="495.30" stroke="#2b7dcf" stroke-width="1.25" stroke-opacity="0.78"/>
<line x1="642.90" y1="496.00" x2="642.90" y2="500.00" stroke="#2b7dcf" stroke-width="1.25" stroke-opacity="0.78"/>
<line x1="660.00" y1="500.30" x2="660.00" y2="504.30" stroke="#2b7dcf" stroke-width="1.25" stroke-opacity="0.78"/>
<line x1="677.00" y1="506.50" x2="677.00" y2="507.70" stroke="#2b7dcf" stroke-width="1.25" stroke-opacity="0.78"/>
<rect x="605.40" y="479.60" width="2.80" height="2.80" fill="#2b7dcf" stroke="none" stroke-width="1"/>
<rect x="623.90" y="492.40" width="2.80" height="2.80" fill="#2b7dcf" stroke="none" stroke-width="1"/>
<rect x="641.50" y="496.60" width="2.80" height="2.80" fill="#2b7dcf" stroke="none" stroke-width="1"/>
<rect x="658.60" y="500.90" width="2.80" height="2.80" fill="#2b7dcf" stroke="none" stroke-width="1"/>
<rect x="675.60" y="505.70" width="2.80" height="2.80" fill="#2b7dcf" stroke="none" stroke-width="1"/>
<text x="625.30" y="474.00" font-size="17" text-anchor="middle" font-weight="bold" fill="#222" stroke="#222" stroke-width="0.22">*</text>
<text x="573.20" y="509.40" font-size="9" text-anchor="middle" font-style="italic" fill="#222" stroke="#222" stroke-width="0.22">p=0.13</text>
<text x="571.80" y="529.90" font-size="9.5" text-anchor="middle" fill="#222" stroke="#222" stroke-width="0.22">0.2</text>
<text x="589.40" y="529.90" font-size="9.5" text-anchor="middle" fill="#222" stroke="#222" stroke-width="0.22">0.4</text>
<text x="606.80" y="529.90" font-size="9.5" text-anchor="middle" fill="#222" stroke="#222" stroke-width="0.22">0.8</text>
<text x="625.30" y="529.90" font-size="9.5" text-anchor="middle" fill="#222" stroke="#222" stroke-width="0.22">1.2</text>
<text x="642.90" y="529.90" font-size="9.5" text-anchor="middle" fill="#222" stroke="#222" stroke-width="0.22">2.4</text>
<text x="660.00" y="529.90" font-size="9.5" text-anchor="middle" fill="#222" stroke="#222" stroke-width="0.22">4.8</text>
<text x="677.00" y="529.90" font-size="9.5" text-anchor="middle" fill="#222" stroke="#222" stroke-width="0.22">9.6</text>
<text x="615.20" y="540.70" font-size="9.8" text-anchor="middle" fill="#222" stroke="#222" stroke-width="0.22">Tiling window (s)</text>
<text x="527.80" y="477.40" font-size="9.8" text-anchor="middle" fill="#222" transform="rotate(-90 527.8 477.4)" stroke="#222" stroke-width="0.22">Reliability</text>
</svg></body></html>
